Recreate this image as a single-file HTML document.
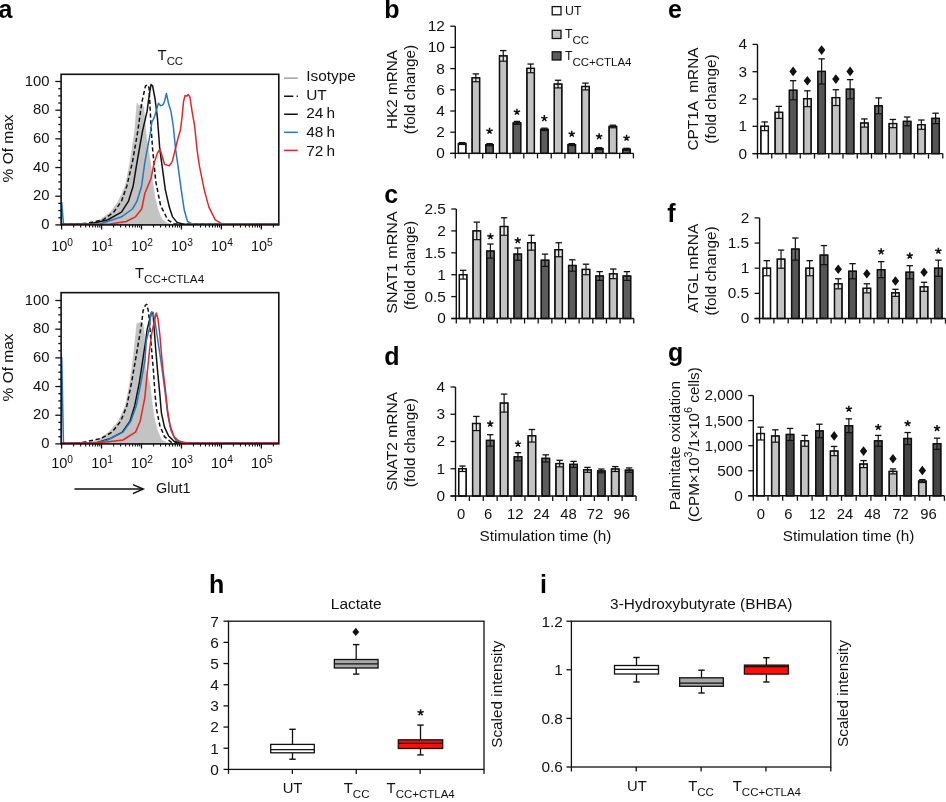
<!DOCTYPE html><html><head><meta charset="utf-8"><style>html,body{margin:0;padding:0;background:#fff;width:946px;height:802px;overflow:hidden}</style></head><body><svg width="946" height="802" viewBox="0 0 946 802" style="display:block;filter:blur(0.3px);font-family:'Liberation Sans', sans-serif">
<rect width="946" height="802" fill="#fff"/>
<text x="-1.50" y="18.40" font-size="25" text-anchor="start" font-weight="bold" fill="#000">a</text>
<text x="384.20" y="18.40" font-size="25" text-anchor="start" font-weight="bold" fill="#000">b</text>
<text x="384.20" y="203.40" font-size="25" text-anchor="start" font-weight="bold" fill="#000">c</text>
<text x="384.20" y="364.80" font-size="25" text-anchor="start" font-weight="bold" fill="#000">d</text>
<text x="667.90" y="18.40" font-size="25" text-anchor="start" font-weight="bold" fill="#000">e</text>
<text x="667.20" y="221.60" font-size="25" text-anchor="start" font-weight="bold" fill="#000">f</text>
<text x="667.90" y="361.20" font-size="25" text-anchor="start" font-weight="bold" fill="#000">g</text>
<text x="209.00" y="593.00" font-size="25" text-anchor="start" font-weight="bold" fill="#000">h</text>
<text x="540.00" y="593.00" font-size="25" text-anchor="start" font-weight="bold" fill="#000">i</text>
<rect x="458.40" y="143.54" width="7.50" height="9.86" fill="#ffffff" stroke="#111" stroke-width="1.3"/>
<rect x="459.05" y="144.19" width="6.20" height="0.30" fill="#ffffff"/>
<line x1="458.40" y1="144.50" x2="465.90" y2="144.50" stroke="#111" stroke-width="1.2"/>
<line x1="462.15" y1="142.59" x2="462.15" y2="144.50" stroke="#111" stroke-width="1.2"/>
<line x1="458.95" y1="142.59" x2="465.35" y2="142.59" stroke="#111" stroke-width="1.3"/>
<rect x="458.40" y="143.54" width="7.50" height="9.86" fill="none" stroke="#111" stroke-width="1.3"/>
<rect x="472.10" y="77.82" width="7.50" height="75.58" fill="#c3c3c3" stroke="#111" stroke-width="1.3"/>
<rect x="472.75" y="78.47" width="6.20" height="3.27" fill="#e2e2e2"/>
<line x1="472.10" y1="81.74" x2="479.60" y2="81.74" stroke="#111" stroke-width="1.2"/>
<line x1="475.85" y1="73.90" x2="475.85" y2="81.74" stroke="#111" stroke-width="1.2"/>
<line x1="472.65" y1="73.90" x2="479.05" y2="73.90" stroke="#111" stroke-width="1.3"/>
<rect x="472.10" y="77.82" width="7.50" height="75.58" fill="none" stroke="#111" stroke-width="1.3"/>
<rect x="485.80" y="144.71" width="7.50" height="8.69" fill="#5c5c5c" stroke="#111" stroke-width="1.3"/>
<rect x="486.45" y="145.36" width="6.20" height="0.41" fill="#6a6a6a"/>
<line x1="485.80" y1="145.77" x2="493.30" y2="145.77" stroke="#111" stroke-width="1.2"/>
<line x1="489.55" y1="143.65" x2="489.55" y2="145.77" stroke="#111" stroke-width="1.2"/>
<line x1="486.35" y1="143.65" x2="492.75" y2="143.65" stroke="#111" stroke-width="1.3"/>
<rect x="485.80" y="144.71" width="7.50" height="8.69" fill="none" stroke="#111" stroke-width="1.3"/>
<rect x="499.50" y="55.88" width="7.50" height="97.52" fill="#c3c3c3" stroke="#111" stroke-width="1.3"/>
<rect x="500.15" y="56.53" width="6.20" height="4.65" fill="#e2e2e2"/>
<line x1="499.50" y1="61.18" x2="507.00" y2="61.18" stroke="#111" stroke-width="1.2"/>
<line x1="503.25" y1="50.58" x2="503.25" y2="61.18" stroke="#111" stroke-width="1.2"/>
<line x1="500.05" y1="50.58" x2="506.45" y2="50.58" stroke="#111" stroke-width="1.3"/>
<rect x="499.50" y="55.88" width="7.50" height="97.52" fill="none" stroke="#111" stroke-width="1.3"/>
<rect x="513.20" y="122.87" width="7.50" height="30.53" fill="#5c5c5c" stroke="#111" stroke-width="1.3"/>
<rect x="513.85" y="123.52" width="6.20" height="0.83" fill="#6a6a6a"/>
<line x1="513.20" y1="124.36" x2="520.70" y2="124.36" stroke="#111" stroke-width="1.2"/>
<line x1="516.95" y1="121.39" x2="516.95" y2="124.36" stroke="#111" stroke-width="1.2"/>
<line x1="513.75" y1="121.39" x2="520.15" y2="121.39" stroke="#111" stroke-width="1.3"/>
<rect x="513.20" y="122.87" width="7.50" height="30.53" fill="none" stroke="#111" stroke-width="1.3"/>
<rect x="526.90" y="68.39" width="7.50" height="85.01" fill="#c3c3c3" stroke="#111" stroke-width="1.3"/>
<rect x="527.55" y="69.04" width="6.20" height="3.70" fill="#e2e2e2"/>
<line x1="526.90" y1="72.73" x2="534.40" y2="72.73" stroke="#111" stroke-width="1.2"/>
<line x1="530.65" y1="64.04" x2="530.65" y2="72.73" stroke="#111" stroke-width="1.2"/>
<line x1="527.45" y1="64.04" x2="533.85" y2="64.04" stroke="#111" stroke-width="1.3"/>
<rect x="526.90" y="68.39" width="7.50" height="85.01" fill="none" stroke="#111" stroke-width="1.3"/>
<rect x="540.60" y="129.34" width="7.50" height="24.06" fill="#5c5c5c" stroke="#111" stroke-width="1.3"/>
<rect x="541.25" y="129.99" width="6.20" height="0.52" fill="#6a6a6a"/>
<line x1="540.60" y1="130.50" x2="548.10" y2="130.50" stroke="#111" stroke-width="1.2"/>
<line x1="544.35" y1="128.17" x2="544.35" y2="130.50" stroke="#111" stroke-width="1.2"/>
<line x1="541.15" y1="128.17" x2="547.55" y2="128.17" stroke="#111" stroke-width="1.3"/>
<rect x="540.60" y="129.34" width="7.50" height="24.06" fill="none" stroke="#111" stroke-width="1.3"/>
<rect x="554.30" y="84.08" width="7.50" height="69.32" fill="#c3c3c3" stroke="#111" stroke-width="1.3"/>
<rect x="554.95" y="84.73" width="6.20" height="3.17" fill="#e2e2e2"/>
<line x1="554.30" y1="87.89" x2="561.80" y2="87.89" stroke="#111" stroke-width="1.2"/>
<line x1="558.05" y1="80.26" x2="558.05" y2="87.89" stroke="#111" stroke-width="1.2"/>
<line x1="554.85" y1="80.26" x2="561.25" y2="80.26" stroke="#111" stroke-width="1.3"/>
<rect x="554.30" y="84.08" width="7.50" height="69.32" fill="none" stroke="#111" stroke-width="1.3"/>
<rect x="568.00" y="144.60" width="7.50" height="8.80" fill="#5c5c5c" stroke="#111" stroke-width="1.3"/>
<rect x="568.65" y="145.25" width="6.20" height="0.30" fill="#6a6a6a"/>
<line x1="568.00" y1="145.56" x2="575.50" y2="145.56" stroke="#111" stroke-width="1.2"/>
<line x1="571.75" y1="143.65" x2="571.75" y2="145.56" stroke="#111" stroke-width="1.2"/>
<line x1="568.55" y1="143.65" x2="574.95" y2="143.65" stroke="#111" stroke-width="1.3"/>
<rect x="568.00" y="144.60" width="7.50" height="8.80" fill="none" stroke="#111" stroke-width="1.3"/>
<rect x="581.70" y="86.51" width="7.50" height="66.89" fill="#c3c3c3" stroke="#111" stroke-width="1.3"/>
<rect x="582.35" y="87.16" width="6.20" height="2.74" fill="#e2e2e2"/>
<line x1="581.70" y1="89.91" x2="589.20" y2="89.91" stroke="#111" stroke-width="1.2"/>
<line x1="585.45" y1="83.12" x2="585.45" y2="89.91" stroke="#111" stroke-width="1.2"/>
<line x1="582.25" y1="83.12" x2="588.65" y2="83.12" stroke="#111" stroke-width="1.3"/>
<rect x="581.70" y="86.51" width="7.50" height="66.89" fill="none" stroke="#111" stroke-width="1.3"/>
<rect x="595.40" y="148.63" width="7.50" height="4.77" fill="#5c5c5c" stroke="#111" stroke-width="1.3"/>
<rect x="596.05" y="149.28" width="6.20" height="0.30" fill="#6a6a6a"/>
<line x1="595.40" y1="149.58" x2="602.90" y2="149.58" stroke="#111" stroke-width="1.2"/>
<line x1="599.15" y1="147.68" x2="599.15" y2="149.58" stroke="#111" stroke-width="1.2"/>
<line x1="595.95" y1="147.68" x2="602.35" y2="147.68" stroke="#111" stroke-width="1.3"/>
<rect x="595.40" y="148.63" width="7.50" height="4.77" fill="none" stroke="#111" stroke-width="1.3"/>
<rect x="609.10" y="126.48" width="7.50" height="26.92" fill="#c3c3c3" stroke="#111" stroke-width="1.3"/>
<rect x="609.75" y="127.13" width="6.20" height="0.62" fill="#e2e2e2"/>
<line x1="609.10" y1="127.75" x2="616.60" y2="127.75" stroke="#111" stroke-width="1.2"/>
<line x1="612.85" y1="125.20" x2="612.85" y2="127.75" stroke="#111" stroke-width="1.2"/>
<line x1="609.65" y1="125.20" x2="616.05" y2="125.20" stroke="#111" stroke-width="1.3"/>
<rect x="609.10" y="126.48" width="7.50" height="26.92" fill="none" stroke="#111" stroke-width="1.3"/>
<rect x="622.80" y="149.27" width="7.50" height="4.13" fill="#5c5c5c" stroke="#111" stroke-width="1.3"/>
<rect x="623.45" y="149.92" width="6.20" height="0.30" fill="#6a6a6a"/>
<line x1="622.80" y1="150.22" x2="630.30" y2="150.22" stroke="#111" stroke-width="1.2"/>
<line x1="626.55" y1="148.31" x2="626.55" y2="150.22" stroke="#111" stroke-width="1.2"/>
<line x1="623.35" y1="148.31" x2="629.75" y2="148.31" stroke="#111" stroke-width="1.3"/>
<rect x="622.80" y="149.27" width="7.50" height="4.13" fill="none" stroke="#111" stroke-width="1.3"/>
<line x1="455.30" y1="26.20" x2="455.30" y2="154.00" stroke="#111" stroke-width="1.4"/>
<line x1="450.30" y1="153.40" x2="633.40" y2="153.40" stroke="#111" stroke-width="1.4"/>
<line x1="450.30" y1="153.40" x2="455.30" y2="153.40" stroke="#111" stroke-width="1.3"/>
<text x="444.90" y="158.30" font-size="15.4" text-anchor="end" font-weight="normal" fill="#111">0</text>
<line x1="450.30" y1="132.20" x2="455.30" y2="132.20" stroke="#111" stroke-width="1.3"/>
<text x="444.90" y="137.10" font-size="15.4" text-anchor="end" font-weight="normal" fill="#111">2</text>
<line x1="450.30" y1="111.00" x2="455.30" y2="111.00" stroke="#111" stroke-width="1.3"/>
<text x="444.90" y="115.90" font-size="15.4" text-anchor="end" font-weight="normal" fill="#111">4</text>
<line x1="450.30" y1="89.80" x2="455.30" y2="89.80" stroke="#111" stroke-width="1.3"/>
<text x="444.90" y="94.70" font-size="15.4" text-anchor="end" font-weight="normal" fill="#111">6</text>
<line x1="450.30" y1="68.60" x2="455.30" y2="68.60" stroke="#111" stroke-width="1.3"/>
<text x="444.90" y="73.50" font-size="15.4" text-anchor="end" font-weight="normal" fill="#111">8</text>
<line x1="450.30" y1="47.40" x2="455.30" y2="47.40" stroke="#111" stroke-width="1.3"/>
<text x="444.90" y="52.30" font-size="15.4" text-anchor="end" font-weight="normal" fill="#111">10</text>
<line x1="450.30" y1="26.20" x2="455.30" y2="26.20" stroke="#111" stroke-width="1.3"/>
<text x="444.90" y="31.10" font-size="15.4" text-anchor="end" font-weight="normal" fill="#111">12</text>
<line x1="455.30" y1="153.40" x2="455.30" y2="158.40" stroke="#111" stroke-width="1.3"/>
<line x1="469.00" y1="153.40" x2="469.00" y2="158.40" stroke="#111" stroke-width="1.3"/>
<line x1="482.70" y1="153.40" x2="482.70" y2="158.40" stroke="#111" stroke-width="1.3"/>
<line x1="496.40" y1="153.40" x2="496.40" y2="158.40" stroke="#111" stroke-width="1.3"/>
<line x1="510.10" y1="153.40" x2="510.10" y2="158.40" stroke="#111" stroke-width="1.3"/>
<line x1="523.80" y1="153.40" x2="523.80" y2="158.40" stroke="#111" stroke-width="1.3"/>
<line x1="537.50" y1="153.40" x2="537.50" y2="158.40" stroke="#111" stroke-width="1.3"/>
<line x1="551.20" y1="153.40" x2="551.20" y2="158.40" stroke="#111" stroke-width="1.3"/>
<line x1="564.90" y1="153.40" x2="564.90" y2="158.40" stroke="#111" stroke-width="1.3"/>
<line x1="578.60" y1="153.40" x2="578.60" y2="158.40" stroke="#111" stroke-width="1.3"/>
<line x1="592.30" y1="153.40" x2="592.30" y2="158.40" stroke="#111" stroke-width="1.3"/>
<line x1="606.00" y1="153.40" x2="606.00" y2="158.40" stroke="#111" stroke-width="1.3"/>
<line x1="619.70" y1="153.40" x2="619.70" y2="158.40" stroke="#111" stroke-width="1.3"/>
<line x1="633.40" y1="153.40" x2="633.40" y2="158.40" stroke="#111" stroke-width="1.3"/>
<path d="M489.55 131.00 L489.55 127.70 M489.55 131.00 L492.69 129.98 M489.55 131.00 L486.41 129.98 M489.55 131.00 L491.49 133.67 M489.55 131.00 L487.61 133.67 " stroke="#111" stroke-width="1.5" stroke-linecap="butt" fill="none"/>
<path d="M516.95 112.00 L516.95 108.70 M516.95 112.00 L520.09 110.98 M516.95 112.00 L513.81 110.98 M516.95 112.00 L518.89 114.67 M516.95 112.00 L515.01 114.67 " stroke="#111" stroke-width="1.5" stroke-linecap="butt" fill="none"/>
<path d="M544.35 118.40 L544.35 115.10 M544.35 118.40 L547.49 117.38 M544.35 118.40 L541.21 117.38 M544.35 118.40 L546.29 121.07 M544.35 118.40 L542.41 121.07 " stroke="#111" stroke-width="1.5" stroke-linecap="butt" fill="none"/>
<path d="M571.75 134.00 L571.75 130.70 M571.75 134.00 L574.89 132.98 M571.75 134.00 L568.61 132.98 M571.75 134.00 L573.69 136.67 M571.75 134.00 L569.81 136.67 " stroke="#111" stroke-width="1.5" stroke-linecap="butt" fill="none"/>
<path d="M599.15 136.50 L599.15 133.20 M599.15 136.50 L602.29 135.48 M599.15 136.50 L596.01 135.48 M599.15 136.50 L601.09 139.17 M599.15 136.50 L597.21 139.17 " stroke="#111" stroke-width="1.5" stroke-linecap="butt" fill="none"/>
<path d="M626.55 138.00 L626.55 134.70 M626.55 138.00 L629.69 136.98 M626.55 138.00 L623.41 136.98 M626.55 138.00 L628.49 140.67 M626.55 138.00 L624.61 140.67 " stroke="#111" stroke-width="1.5" stroke-linecap="butt" fill="none"/>
<rect x="459.38" y="274.70" width="7.50" height="43.80" fill="#ffffff" stroke="#111" stroke-width="1.3"/>
<rect x="460.02" y="275.35" width="6.20" height="3.73" fill="#ffffff"/>
<line x1="459.38" y1="279.08" x2="466.88" y2="279.08" stroke="#111" stroke-width="1.2"/>
<line x1="463.12" y1="270.32" x2="463.12" y2="279.08" stroke="#111" stroke-width="1.2"/>
<line x1="459.93" y1="270.32" x2="466.32" y2="270.32" stroke="#111" stroke-width="1.3"/>
<rect x="459.38" y="274.70" width="7.50" height="43.80" fill="none" stroke="#111" stroke-width="1.3"/>
<rect x="473.03" y="230.90" width="7.50" height="87.60" fill="#c3c3c3" stroke="#111" stroke-width="1.3"/>
<rect x="473.68" y="231.55" width="6.20" height="8.11" fill="#e2e2e2"/>
<line x1="473.03" y1="239.66" x2="480.53" y2="239.66" stroke="#111" stroke-width="1.2"/>
<line x1="476.78" y1="222.14" x2="476.78" y2="239.66" stroke="#111" stroke-width="1.2"/>
<line x1="473.58" y1="222.14" x2="479.98" y2="222.14" stroke="#111" stroke-width="1.3"/>
<rect x="473.03" y="230.90" width="7.50" height="87.60" fill="none" stroke="#111" stroke-width="1.3"/>
<rect x="486.68" y="251.05" width="7.50" height="67.45" fill="#5c5c5c" stroke="#111" stroke-width="1.3"/>
<rect x="487.32" y="251.70" width="6.20" height="6.36" fill="#6a6a6a"/>
<line x1="486.68" y1="258.06" x2="494.18" y2="258.06" stroke="#111" stroke-width="1.2"/>
<line x1="490.43" y1="244.04" x2="490.43" y2="258.06" stroke="#111" stroke-width="1.2"/>
<line x1="487.23" y1="244.04" x2="493.62" y2="244.04" stroke="#111" stroke-width="1.3"/>
<rect x="486.68" y="251.05" width="7.50" height="67.45" fill="none" stroke="#111" stroke-width="1.3"/>
<rect x="500.32" y="226.52" width="7.50" height="91.98" fill="#c3c3c3" stroke="#111" stroke-width="1.3"/>
<rect x="500.97" y="227.17" width="6.20" height="8.11" fill="#e2e2e2"/>
<line x1="500.32" y1="235.28" x2="507.82" y2="235.28" stroke="#111" stroke-width="1.2"/>
<line x1="504.07" y1="217.76" x2="504.07" y2="235.28" stroke="#111" stroke-width="1.2"/>
<line x1="500.88" y1="217.76" x2="507.27" y2="217.76" stroke="#111" stroke-width="1.3"/>
<rect x="500.32" y="226.52" width="7.50" height="91.98" fill="none" stroke="#111" stroke-width="1.3"/>
<rect x="513.98" y="254.11" width="7.50" height="64.39" fill="#5c5c5c" stroke="#111" stroke-width="1.3"/>
<rect x="514.62" y="254.76" width="6.20" height="5.48" fill="#6a6a6a"/>
<line x1="513.98" y1="260.25" x2="521.48" y2="260.25" stroke="#111" stroke-width="1.2"/>
<line x1="517.73" y1="247.98" x2="517.73" y2="260.25" stroke="#111" stroke-width="1.2"/>
<line x1="514.52" y1="247.98" x2="520.93" y2="247.98" stroke="#111" stroke-width="1.3"/>
<rect x="513.98" y="254.11" width="7.50" height="64.39" fill="none" stroke="#111" stroke-width="1.3"/>
<rect x="527.62" y="242.73" width="7.50" height="75.77" fill="#c3c3c3" stroke="#111" stroke-width="1.3"/>
<rect x="528.27" y="243.38" width="6.20" height="6.80" fill="#e2e2e2"/>
<line x1="527.62" y1="250.17" x2="535.12" y2="250.17" stroke="#111" stroke-width="1.2"/>
<line x1="531.38" y1="235.28" x2="531.38" y2="250.17" stroke="#111" stroke-width="1.2"/>
<line x1="528.17" y1="235.28" x2="534.58" y2="235.28" stroke="#111" stroke-width="1.3"/>
<rect x="527.62" y="242.73" width="7.50" height="75.77" fill="none" stroke="#111" stroke-width="1.3"/>
<rect x="541.27" y="260.25" width="7.50" height="58.25" fill="#5c5c5c" stroke="#111" stroke-width="1.3"/>
<rect x="541.92" y="260.90" width="6.20" height="5.48" fill="#6a6a6a"/>
<line x1="541.27" y1="266.38" x2="548.77" y2="266.38" stroke="#111" stroke-width="1.2"/>
<line x1="545.02" y1="254.11" x2="545.02" y2="266.38" stroke="#111" stroke-width="1.2"/>
<line x1="541.82" y1="254.11" x2="548.23" y2="254.11" stroke="#111" stroke-width="1.3"/>
<rect x="541.27" y="260.25" width="7.50" height="58.25" fill="none" stroke="#111" stroke-width="1.3"/>
<rect x="554.92" y="249.73" width="7.50" height="68.77" fill="#c3c3c3" stroke="#111" stroke-width="1.3"/>
<rect x="555.57" y="250.38" width="6.20" height="6.36" fill="#e2e2e2"/>
<line x1="554.92" y1="256.74" x2="562.42" y2="256.74" stroke="#111" stroke-width="1.2"/>
<line x1="558.67" y1="242.73" x2="558.67" y2="256.74" stroke="#111" stroke-width="1.2"/>
<line x1="555.47" y1="242.73" x2="561.88" y2="242.73" stroke="#111" stroke-width="1.3"/>
<rect x="554.92" y="249.73" width="7.50" height="68.77" fill="none" stroke="#111" stroke-width="1.3"/>
<rect x="568.58" y="265.50" width="7.50" height="53.00" fill="#5c5c5c" stroke="#111" stroke-width="1.3"/>
<rect x="569.23" y="266.15" width="6.20" height="5.04" fill="#6a6a6a"/>
<line x1="568.58" y1="271.20" x2="576.08" y2="271.20" stroke="#111" stroke-width="1.2"/>
<line x1="572.33" y1="259.81" x2="572.33" y2="271.20" stroke="#111" stroke-width="1.2"/>
<line x1="569.12" y1="259.81" x2="575.53" y2="259.81" stroke="#111" stroke-width="1.3"/>
<rect x="568.58" y="265.50" width="7.50" height="53.00" fill="none" stroke="#111" stroke-width="1.3"/>
<rect x="582.23" y="269.44" width="7.50" height="49.06" fill="#c3c3c3" stroke="#111" stroke-width="1.3"/>
<rect x="582.88" y="270.09" width="6.20" height="4.61" fill="#e2e2e2"/>
<line x1="582.23" y1="274.70" x2="589.73" y2="274.70" stroke="#111" stroke-width="1.2"/>
<line x1="585.98" y1="264.19" x2="585.98" y2="274.70" stroke="#111" stroke-width="1.2"/>
<line x1="582.77" y1="264.19" x2="589.18" y2="264.19" stroke="#111" stroke-width="1.3"/>
<rect x="582.23" y="269.44" width="7.50" height="49.06" fill="none" stroke="#111" stroke-width="1.3"/>
<rect x="595.88" y="276.01" width="7.50" height="42.49" fill="#5c5c5c" stroke="#111" stroke-width="1.3"/>
<rect x="596.52" y="276.66" width="6.20" height="3.73" fill="#6a6a6a"/>
<line x1="595.88" y1="280.39" x2="603.38" y2="280.39" stroke="#111" stroke-width="1.2"/>
<line x1="599.62" y1="271.63" x2="599.62" y2="280.39" stroke="#111" stroke-width="1.2"/>
<line x1="596.42" y1="271.63" x2="602.83" y2="271.63" stroke="#111" stroke-width="1.3"/>
<rect x="595.88" y="276.01" width="7.50" height="42.49" fill="none" stroke="#111" stroke-width="1.3"/>
<rect x="609.52" y="273.82" width="7.50" height="44.68" fill="#c3c3c3" stroke="#111" stroke-width="1.3"/>
<rect x="610.17" y="274.47" width="6.20" height="4.17" fill="#e2e2e2"/>
<line x1="609.52" y1="278.64" x2="617.02" y2="278.64" stroke="#111" stroke-width="1.2"/>
<line x1="613.27" y1="269.01" x2="613.27" y2="278.64" stroke="#111" stroke-width="1.2"/>
<line x1="610.07" y1="269.01" x2="616.48" y2="269.01" stroke="#111" stroke-width="1.3"/>
<rect x="609.52" y="273.82" width="7.50" height="44.68" fill="none" stroke="#111" stroke-width="1.3"/>
<rect x="623.17" y="276.01" width="7.50" height="42.49" fill="#5c5c5c" stroke="#111" stroke-width="1.3"/>
<rect x="623.82" y="276.66" width="6.20" height="3.73" fill="#6a6a6a"/>
<line x1="623.17" y1="280.39" x2="630.67" y2="280.39" stroke="#111" stroke-width="1.2"/>
<line x1="626.92" y1="271.63" x2="626.92" y2="280.39" stroke="#111" stroke-width="1.2"/>
<line x1="623.72" y1="271.63" x2="630.12" y2="271.63" stroke="#111" stroke-width="1.3"/>
<rect x="623.17" y="276.01" width="7.50" height="42.49" fill="none" stroke="#111" stroke-width="1.3"/>
<line x1="456.30" y1="209.00" x2="456.30" y2="319.10" stroke="#111" stroke-width="1.4"/>
<line x1="451.30" y1="318.50" x2="633.75" y2="318.50" stroke="#111" stroke-width="1.4"/>
<line x1="451.30" y1="318.50" x2="456.30" y2="318.50" stroke="#111" stroke-width="1.3"/>
<text x="445.90" y="323.40" font-size="15.4" text-anchor="end" font-weight="normal" fill="#111">0</text>
<line x1="451.30" y1="296.60" x2="456.30" y2="296.60" stroke="#111" stroke-width="1.3"/>
<text x="445.90" y="301.50" font-size="15.4" text-anchor="end" font-weight="normal" fill="#111">0.5</text>
<line x1="451.30" y1="274.70" x2="456.30" y2="274.70" stroke="#111" stroke-width="1.3"/>
<text x="445.90" y="279.60" font-size="15.4" text-anchor="end" font-weight="normal" fill="#111">1</text>
<line x1="451.30" y1="252.80" x2="456.30" y2="252.80" stroke="#111" stroke-width="1.3"/>
<text x="445.90" y="257.70" font-size="15.4" text-anchor="end" font-weight="normal" fill="#111">1.5</text>
<line x1="451.30" y1="230.90" x2="456.30" y2="230.90" stroke="#111" stroke-width="1.3"/>
<text x="445.90" y="235.80" font-size="15.4" text-anchor="end" font-weight="normal" fill="#111">2</text>
<line x1="451.30" y1="209.00" x2="456.30" y2="209.00" stroke="#111" stroke-width="1.3"/>
<text x="445.90" y="213.90" font-size="15.4" text-anchor="end" font-weight="normal" fill="#111">2.5</text>
<line x1="456.30" y1="318.50" x2="456.30" y2="323.50" stroke="#111" stroke-width="1.3"/>
<line x1="469.95" y1="318.50" x2="469.95" y2="323.50" stroke="#111" stroke-width="1.3"/>
<line x1="483.60" y1="318.50" x2="483.60" y2="323.50" stroke="#111" stroke-width="1.3"/>
<line x1="497.25" y1="318.50" x2="497.25" y2="323.50" stroke="#111" stroke-width="1.3"/>
<line x1="510.90" y1="318.50" x2="510.90" y2="323.50" stroke="#111" stroke-width="1.3"/>
<line x1="524.55" y1="318.50" x2="524.55" y2="323.50" stroke="#111" stroke-width="1.3"/>
<line x1="538.20" y1="318.50" x2="538.20" y2="323.50" stroke="#111" stroke-width="1.3"/>
<line x1="551.85" y1="318.50" x2="551.85" y2="323.50" stroke="#111" stroke-width="1.3"/>
<line x1="565.50" y1="318.50" x2="565.50" y2="323.50" stroke="#111" stroke-width="1.3"/>
<line x1="579.15" y1="318.50" x2="579.15" y2="323.50" stroke="#111" stroke-width="1.3"/>
<line x1="592.80" y1="318.50" x2="592.80" y2="323.50" stroke="#111" stroke-width="1.3"/>
<line x1="606.45" y1="318.50" x2="606.45" y2="323.50" stroke="#111" stroke-width="1.3"/>
<line x1="620.10" y1="318.50" x2="620.10" y2="323.50" stroke="#111" stroke-width="1.3"/>
<line x1="633.75" y1="318.50" x2="633.75" y2="323.50" stroke="#111" stroke-width="1.3"/>
<path d="M490.43 236.50 L490.43 233.20 M490.43 236.50 L493.56 235.48 M490.43 236.50 L487.29 235.48 M490.43 236.50 L492.36 239.17 M490.43 236.50 L488.49 239.17 " stroke="#111" stroke-width="1.5" stroke-linecap="butt" fill="none"/>
<path d="M517.73 240.50 L517.73 237.20 M517.73 240.50 L520.86 239.48 M517.73 240.50 L514.59 239.48 M517.73 240.50 L519.66 243.17 M517.73 240.50 L515.79 243.17 " stroke="#111" stroke-width="1.5" stroke-linecap="butt" fill="none"/>
<rect x="458.69" y="468.75" width="7.50" height="27.25" fill="#ffffff" stroke="#111" stroke-width="1.3"/>
<rect x="459.34" y="469.40" width="6.20" height="2.08" fill="#ffffff"/>
<line x1="458.69" y1="471.48" x2="466.19" y2="471.48" stroke="#111" stroke-width="1.2"/>
<line x1="462.44" y1="466.02" x2="462.44" y2="471.48" stroke="#111" stroke-width="1.2"/>
<line x1="459.25" y1="466.02" x2="465.64" y2="466.02" stroke="#111" stroke-width="1.3"/>
<rect x="458.69" y="468.75" width="7.50" height="27.25" fill="none" stroke="#111" stroke-width="1.3"/>
<rect x="472.58" y="423.51" width="7.50" height="72.49" fill="#c3c3c3" stroke="#111" stroke-width="1.3"/>
<rect x="473.23" y="424.16" width="6.20" height="6.44" fill="#e2e2e2"/>
<line x1="472.58" y1="430.60" x2="480.08" y2="430.60" stroke="#111" stroke-width="1.2"/>
<line x1="476.33" y1="416.43" x2="476.33" y2="430.60" stroke="#111" stroke-width="1.2"/>
<line x1="473.13" y1="416.43" x2="479.53" y2="416.43" stroke="#111" stroke-width="1.3"/>
<rect x="472.58" y="423.51" width="7.50" height="72.49" fill="none" stroke="#111" stroke-width="1.3"/>
<rect x="486.48" y="440.41" width="7.50" height="55.59" fill="#5c5c5c" stroke="#111" stroke-width="1.3"/>
<rect x="487.12" y="441.06" width="6.20" height="5.07" fill="#6a6a6a"/>
<line x1="486.48" y1="446.13" x2="493.98" y2="446.13" stroke="#111" stroke-width="1.2"/>
<line x1="490.23" y1="434.69" x2="490.23" y2="446.13" stroke="#111" stroke-width="1.2"/>
<line x1="487.03" y1="434.69" x2="493.43" y2="434.69" stroke="#111" stroke-width="1.3"/>
<rect x="486.48" y="440.41" width="7.50" height="55.59" fill="none" stroke="#111" stroke-width="1.3"/>
<rect x="500.37" y="403.08" width="7.50" height="92.92" fill="#c3c3c3" stroke="#111" stroke-width="1.3"/>
<rect x="501.01" y="403.73" width="6.20" height="8.34" fill="#e2e2e2"/>
<line x1="500.37" y1="412.07" x2="507.87" y2="412.07" stroke="#111" stroke-width="1.2"/>
<line x1="504.12" y1="394.08" x2="504.12" y2="412.07" stroke="#111" stroke-width="1.2"/>
<line x1="500.92" y1="394.08" x2="507.31" y2="394.08" stroke="#111" stroke-width="1.3"/>
<rect x="500.37" y="403.08" width="7.50" height="92.92" fill="none" stroke="#111" stroke-width="1.3"/>
<rect x="514.25" y="456.76" width="7.50" height="39.24" fill="#5c5c5c" stroke="#111" stroke-width="1.3"/>
<rect x="514.90" y="457.41" width="6.20" height="3.44" fill="#6a6a6a"/>
<line x1="514.25" y1="460.85" x2="521.75" y2="460.85" stroke="#111" stroke-width="1.2"/>
<line x1="518.00" y1="452.67" x2="518.00" y2="460.85" stroke="#111" stroke-width="1.2"/>
<line x1="514.80" y1="452.67" x2="521.21" y2="452.67" stroke="#111" stroke-width="1.3"/>
<rect x="514.25" y="456.76" width="7.50" height="39.24" fill="none" stroke="#111" stroke-width="1.3"/>
<rect x="528.14" y="435.78" width="7.50" height="60.22" fill="#c3c3c3" stroke="#111" stroke-width="1.3"/>
<rect x="528.79" y="436.43" width="6.20" height="5.62" fill="#e2e2e2"/>
<line x1="528.14" y1="442.05" x2="535.64" y2="442.05" stroke="#111" stroke-width="1.2"/>
<line x1="531.89" y1="429.51" x2="531.89" y2="442.05" stroke="#111" stroke-width="1.2"/>
<line x1="528.69" y1="429.51" x2="535.10" y2="429.51" stroke="#111" stroke-width="1.3"/>
<rect x="528.14" y="435.78" width="7.50" height="60.22" fill="none" stroke="#111" stroke-width="1.3"/>
<rect x="542.03" y="458.39" width="7.50" height="37.61" fill="#5c5c5c" stroke="#111" stroke-width="1.3"/>
<rect x="542.68" y="459.04" width="6.20" height="2.89" fill="#6a6a6a"/>
<line x1="542.03" y1="461.94" x2="549.53" y2="461.94" stroke="#111" stroke-width="1.2"/>
<line x1="545.78" y1="454.85" x2="545.78" y2="461.94" stroke="#111" stroke-width="1.2"/>
<line x1="542.58" y1="454.85" x2="548.99" y2="454.85" stroke="#111" stroke-width="1.3"/>
<rect x="542.03" y="458.39" width="7.50" height="37.61" fill="none" stroke="#111" stroke-width="1.3"/>
<rect x="555.92" y="463.57" width="7.50" height="32.43" fill="#c3c3c3" stroke="#111" stroke-width="1.3"/>
<rect x="556.57" y="464.22" width="6.20" height="2.62" fill="#e2e2e2"/>
<line x1="555.92" y1="466.84" x2="563.42" y2="466.84" stroke="#111" stroke-width="1.2"/>
<line x1="559.67" y1="460.30" x2="559.67" y2="466.84" stroke="#111" stroke-width="1.2"/>
<line x1="556.47" y1="460.30" x2="562.88" y2="460.30" stroke="#111" stroke-width="1.3"/>
<rect x="555.92" y="463.57" width="7.50" height="32.43" fill="none" stroke="#111" stroke-width="1.3"/>
<rect x="569.82" y="464.39" width="7.50" height="31.61" fill="#5c5c5c" stroke="#111" stroke-width="1.3"/>
<rect x="570.47" y="465.04" width="6.20" height="2.35" fill="#6a6a6a"/>
<line x1="569.82" y1="467.39" x2="577.32" y2="467.39" stroke="#111" stroke-width="1.2"/>
<line x1="573.57" y1="461.39" x2="573.57" y2="467.39" stroke="#111" stroke-width="1.2"/>
<line x1="570.37" y1="461.39" x2="576.77" y2="461.39" stroke="#111" stroke-width="1.3"/>
<rect x="569.82" y="464.39" width="7.50" height="31.61" fill="none" stroke="#111" stroke-width="1.3"/>
<rect x="583.71" y="469.84" width="7.50" height="26.16" fill="#c3c3c3" stroke="#111" stroke-width="1.3"/>
<rect x="584.36" y="470.49" width="6.20" height="1.80" fill="#e2e2e2"/>
<line x1="583.71" y1="472.29" x2="591.21" y2="472.29" stroke="#111" stroke-width="1.2"/>
<line x1="587.46" y1="467.39" x2="587.46" y2="472.29" stroke="#111" stroke-width="1.2"/>
<line x1="584.25" y1="467.39" x2="590.66" y2="467.39" stroke="#111" stroke-width="1.3"/>
<rect x="583.71" y="469.84" width="7.50" height="26.16" fill="none" stroke="#111" stroke-width="1.3"/>
<rect x="597.60" y="470.93" width="7.50" height="25.07" fill="#5c5c5c" stroke="#111" stroke-width="1.3"/>
<rect x="598.25" y="471.58" width="6.20" height="1.26" fill="#6a6a6a"/>
<line x1="597.60" y1="472.84" x2="605.10" y2="472.84" stroke="#111" stroke-width="1.2"/>
<line x1="601.35" y1="469.02" x2="601.35" y2="472.84" stroke="#111" stroke-width="1.2"/>
<line x1="598.14" y1="469.02" x2="604.55" y2="469.02" stroke="#111" stroke-width="1.3"/>
<rect x="597.60" y="470.93" width="7.50" height="25.07" fill="none" stroke="#111" stroke-width="1.3"/>
<rect x="611.49" y="469.02" width="7.50" height="26.98" fill="#c3c3c3" stroke="#111" stroke-width="1.3"/>
<rect x="612.13" y="469.67" width="6.20" height="1.80" fill="#e2e2e2"/>
<line x1="611.49" y1="471.48" x2="618.99" y2="471.48" stroke="#111" stroke-width="1.2"/>
<line x1="615.24" y1="466.57" x2="615.24" y2="471.48" stroke="#111" stroke-width="1.2"/>
<line x1="612.03" y1="466.57" x2="618.44" y2="466.57" stroke="#111" stroke-width="1.3"/>
<rect x="611.49" y="469.02" width="7.50" height="26.98" fill="none" stroke="#111" stroke-width="1.3"/>
<rect x="625.38" y="470.11" width="7.50" height="25.89" fill="#5c5c5c" stroke="#111" stroke-width="1.3"/>
<rect x="626.02" y="470.76" width="6.20" height="1.53" fill="#6a6a6a"/>
<line x1="625.38" y1="472.29" x2="632.88" y2="472.29" stroke="#111" stroke-width="1.2"/>
<line x1="629.12" y1="467.93" x2="629.12" y2="472.29" stroke="#111" stroke-width="1.2"/>
<line x1="625.92" y1="467.93" x2="632.33" y2="467.93" stroke="#111" stroke-width="1.3"/>
<rect x="625.38" y="470.11" width="7.50" height="25.89" fill="none" stroke="#111" stroke-width="1.3"/>
<line x1="455.50" y1="387.00" x2="455.50" y2="496.60" stroke="#111" stroke-width="1.4"/>
<line x1="450.50" y1="496.00" x2="636.07" y2="496.00" stroke="#111" stroke-width="1.4"/>
<line x1="450.50" y1="496.00" x2="455.50" y2="496.00" stroke="#111" stroke-width="1.3"/>
<text x="445.10" y="500.90" font-size="15.4" text-anchor="end" font-weight="normal" fill="#111">0</text>
<line x1="450.50" y1="468.75" x2="455.50" y2="468.75" stroke="#111" stroke-width="1.3"/>
<text x="445.10" y="473.65" font-size="15.4" text-anchor="end" font-weight="normal" fill="#111">1</text>
<line x1="450.50" y1="441.50" x2="455.50" y2="441.50" stroke="#111" stroke-width="1.3"/>
<text x="445.10" y="446.40" font-size="15.4" text-anchor="end" font-weight="normal" fill="#111">2</text>
<line x1="450.50" y1="414.25" x2="455.50" y2="414.25" stroke="#111" stroke-width="1.3"/>
<text x="445.10" y="419.15" font-size="15.4" text-anchor="end" font-weight="normal" fill="#111">3</text>
<line x1="450.50" y1="387.00" x2="455.50" y2="387.00" stroke="#111" stroke-width="1.3"/>
<text x="445.10" y="391.90" font-size="15.4" text-anchor="end" font-weight="normal" fill="#111">4</text>
<line x1="455.50" y1="496.00" x2="455.50" y2="501.00" stroke="#111" stroke-width="1.3"/>
<line x1="469.39" y1="496.00" x2="469.39" y2="501.00" stroke="#111" stroke-width="1.3"/>
<line x1="483.28" y1="496.00" x2="483.28" y2="501.00" stroke="#111" stroke-width="1.3"/>
<line x1="497.17" y1="496.00" x2="497.17" y2="501.00" stroke="#111" stroke-width="1.3"/>
<line x1="511.06" y1="496.00" x2="511.06" y2="501.00" stroke="#111" stroke-width="1.3"/>
<line x1="524.95" y1="496.00" x2="524.95" y2="501.00" stroke="#111" stroke-width="1.3"/>
<line x1="538.84" y1="496.00" x2="538.84" y2="501.00" stroke="#111" stroke-width="1.3"/>
<line x1="552.73" y1="496.00" x2="552.73" y2="501.00" stroke="#111" stroke-width="1.3"/>
<line x1="566.62" y1="496.00" x2="566.62" y2="501.00" stroke="#111" stroke-width="1.3"/>
<line x1="580.51" y1="496.00" x2="580.51" y2="501.00" stroke="#111" stroke-width="1.3"/>
<line x1="594.40" y1="496.00" x2="594.40" y2="501.00" stroke="#111" stroke-width="1.3"/>
<line x1="608.29" y1="496.00" x2="608.29" y2="501.00" stroke="#111" stroke-width="1.3"/>
<line x1="622.18" y1="496.00" x2="622.18" y2="501.00" stroke="#111" stroke-width="1.3"/>
<line x1="636.07" y1="496.00" x2="636.07" y2="501.00" stroke="#111" stroke-width="1.3"/>
<path d="M490.23 423.80 L490.23 420.50 M490.23 423.80 L493.36 422.78 M490.23 423.80 L487.09 422.78 M490.23 423.80 L492.16 426.47 M490.23 423.80 L488.29 426.47 " stroke="#111" stroke-width="1.5" stroke-linecap="butt" fill="none"/>
<path d="M518.00 443.90 L518.00 440.60 M518.00 443.90 L521.14 442.88 M518.00 443.90 L514.87 442.88 M518.00 443.90 L519.94 446.57 M518.00 443.90 L516.07 446.57 " stroke="#111" stroke-width="1.5" stroke-linecap="butt" fill="none"/>
<rect x="760.88" y="126.30" width="7.50" height="27.30" fill="#ffffff" stroke="#111" stroke-width="1.3"/>
<rect x="761.52" y="126.95" width="6.20" height="3.72" fill="#ffffff"/>
<line x1="760.88" y1="130.67" x2="768.38" y2="130.67" stroke="#111" stroke-width="1.2"/>
<line x1="764.62" y1="121.93" x2="764.62" y2="130.67" stroke="#111" stroke-width="1.2"/>
<line x1="761.42" y1="121.93" x2="767.83" y2="121.93" stroke="#111" stroke-width="1.3"/>
<rect x="760.88" y="126.30" width="7.50" height="27.30" fill="none" stroke="#111" stroke-width="1.3"/>
<rect x="775.12" y="112.38" width="7.50" height="41.22" fill="#c3c3c3" stroke="#111" stroke-width="1.3"/>
<rect x="775.77" y="113.03" width="6.20" height="5.36" fill="#e2e2e2"/>
<line x1="775.12" y1="118.38" x2="782.62" y2="118.38" stroke="#111" stroke-width="1.2"/>
<line x1="778.88" y1="106.37" x2="778.88" y2="118.38" stroke="#111" stroke-width="1.2"/>
<line x1="775.67" y1="106.37" x2="782.08" y2="106.37" stroke="#111" stroke-width="1.3"/>
<rect x="775.12" y="112.38" width="7.50" height="41.22" fill="none" stroke="#111" stroke-width="1.3"/>
<rect x="789.38" y="90.26" width="7.50" height="63.34" fill="#555555" stroke="#111" stroke-width="1.3"/>
<rect x="790.02" y="90.91" width="6.20" height="8.91" fill="#6a6a6a"/>
<line x1="789.38" y1="99.82" x2="796.88" y2="99.82" stroke="#111" stroke-width="1.2"/>
<line x1="793.12" y1="80.71" x2="793.12" y2="99.82" stroke="#111" stroke-width="1.2"/>
<line x1="789.92" y1="80.71" x2="796.33" y2="80.71" stroke="#111" stroke-width="1.3"/>
<rect x="789.38" y="90.26" width="7.50" height="63.34" fill="none" stroke="#111" stroke-width="1.3"/>
<rect x="803.62" y="98.73" width="7.50" height="54.87" fill="#c3c3c3" stroke="#111" stroke-width="1.3"/>
<rect x="804.27" y="99.38" width="6.20" height="7.27" fill="#e2e2e2"/>
<line x1="803.62" y1="106.64" x2="811.12" y2="106.64" stroke="#111" stroke-width="1.2"/>
<line x1="807.38" y1="90.81" x2="807.38" y2="106.64" stroke="#111" stroke-width="1.2"/>
<line x1="804.17" y1="90.81" x2="810.58" y2="90.81" stroke="#111" stroke-width="1.3"/>
<rect x="803.62" y="98.73" width="7.50" height="54.87" fill="none" stroke="#111" stroke-width="1.3"/>
<rect x="817.88" y="71.43" width="7.50" height="82.17" fill="#555555" stroke="#111" stroke-width="1.3"/>
<rect x="818.52" y="72.08" width="6.20" height="11.91" fill="#6a6a6a"/>
<line x1="817.88" y1="83.98" x2="825.38" y2="83.98" stroke="#111" stroke-width="1.2"/>
<line x1="821.62" y1="58.87" x2="821.62" y2="83.98" stroke="#111" stroke-width="1.2"/>
<line x1="818.42" y1="58.87" x2="824.83" y2="58.87" stroke="#111" stroke-width="1.3"/>
<rect x="817.88" y="71.43" width="7.50" height="82.17" fill="none" stroke="#111" stroke-width="1.3"/>
<rect x="832.12" y="97.63" width="7.50" height="55.97" fill="#c3c3c3" stroke="#111" stroke-width="1.3"/>
<rect x="832.77" y="98.28" width="6.20" height="7.27" fill="#e2e2e2"/>
<line x1="832.12" y1="105.55" x2="839.62" y2="105.55" stroke="#111" stroke-width="1.2"/>
<line x1="835.88" y1="89.72" x2="835.88" y2="105.55" stroke="#111" stroke-width="1.2"/>
<line x1="832.67" y1="89.72" x2="839.08" y2="89.72" stroke="#111" stroke-width="1.3"/>
<rect x="832.12" y="97.63" width="7.50" height="55.97" fill="none" stroke="#111" stroke-width="1.3"/>
<rect x="846.38" y="89.17" width="7.50" height="64.43" fill="#555555" stroke="#111" stroke-width="1.3"/>
<rect x="847.02" y="89.82" width="6.20" height="8.91" fill="#6a6a6a"/>
<line x1="846.38" y1="98.73" x2="853.88" y2="98.73" stroke="#111" stroke-width="1.2"/>
<line x1="850.12" y1="79.62" x2="850.12" y2="98.73" stroke="#111" stroke-width="1.2"/>
<line x1="846.92" y1="79.62" x2="853.33" y2="79.62" stroke="#111" stroke-width="1.3"/>
<rect x="846.38" y="89.17" width="7.50" height="64.43" fill="none" stroke="#111" stroke-width="1.3"/>
<rect x="860.62" y="123.02" width="7.50" height="30.58" fill="#c3c3c3" stroke="#111" stroke-width="1.3"/>
<rect x="861.27" y="123.67" width="6.20" height="3.45" fill="#e2e2e2"/>
<line x1="860.62" y1="127.12" x2="868.12" y2="127.12" stroke="#111" stroke-width="1.2"/>
<line x1="864.38" y1="118.93" x2="864.38" y2="127.12" stroke="#111" stroke-width="1.2"/>
<line x1="861.17" y1="118.93" x2="867.58" y2="118.93" stroke="#111" stroke-width="1.3"/>
<rect x="860.62" y="123.02" width="7.50" height="30.58" fill="none" stroke="#111" stroke-width="1.3"/>
<rect x="874.88" y="105.82" width="7.50" height="47.78" fill="#555555" stroke="#111" stroke-width="1.3"/>
<rect x="875.52" y="106.47" width="6.20" height="7.27" fill="#6a6a6a"/>
<line x1="874.88" y1="113.74" x2="882.38" y2="113.74" stroke="#111" stroke-width="1.2"/>
<line x1="878.62" y1="97.91" x2="878.62" y2="113.74" stroke="#111" stroke-width="1.2"/>
<line x1="875.42" y1="97.91" x2="881.83" y2="97.91" stroke="#111" stroke-width="1.3"/>
<rect x="874.88" y="105.82" width="7.50" height="47.78" fill="none" stroke="#111" stroke-width="1.3"/>
<rect x="889.12" y="123.57" width="7.50" height="30.03" fill="#c3c3c3" stroke="#111" stroke-width="1.3"/>
<rect x="889.77" y="124.22" width="6.20" height="3.44" fill="#e2e2e2"/>
<line x1="889.12" y1="127.66" x2="896.62" y2="127.66" stroke="#111" stroke-width="1.2"/>
<line x1="892.88" y1="119.47" x2="892.88" y2="127.66" stroke="#111" stroke-width="1.2"/>
<line x1="889.67" y1="119.47" x2="896.08" y2="119.47" stroke="#111" stroke-width="1.3"/>
<rect x="889.12" y="123.57" width="7.50" height="30.03" fill="none" stroke="#111" stroke-width="1.3"/>
<rect x="903.38" y="121.39" width="7.50" height="32.21" fill="#555555" stroke="#111" stroke-width="1.3"/>
<rect x="904.02" y="122.04" width="6.20" height="3.72" fill="#6a6a6a"/>
<line x1="903.38" y1="125.75" x2="910.88" y2="125.75" stroke="#111" stroke-width="1.2"/>
<line x1="907.12" y1="117.02" x2="907.12" y2="125.75" stroke="#111" stroke-width="1.2"/>
<line x1="903.92" y1="117.02" x2="910.33" y2="117.02" stroke="#111" stroke-width="1.3"/>
<rect x="903.38" y="121.39" width="7.50" height="32.21" fill="none" stroke="#111" stroke-width="1.3"/>
<rect x="917.62" y="124.66" width="7.50" height="28.94" fill="#c3c3c3" stroke="#111" stroke-width="1.3"/>
<rect x="918.27" y="125.31" width="6.20" height="3.99" fill="#e2e2e2"/>
<line x1="917.62" y1="129.30" x2="925.12" y2="129.30" stroke="#111" stroke-width="1.2"/>
<line x1="921.38" y1="120.02" x2="921.38" y2="129.30" stroke="#111" stroke-width="1.2"/>
<line x1="918.17" y1="120.02" x2="924.58" y2="120.02" stroke="#111" stroke-width="1.3"/>
<rect x="917.62" y="124.66" width="7.50" height="28.94" fill="none" stroke="#111" stroke-width="1.3"/>
<rect x="931.88" y="118.38" width="7.50" height="35.22" fill="#555555" stroke="#111" stroke-width="1.3"/>
<rect x="932.52" y="119.03" width="6.20" height="4.54" fill="#6a6a6a"/>
<line x1="931.88" y1="123.57" x2="939.38" y2="123.57" stroke="#111" stroke-width="1.2"/>
<line x1="935.62" y1="113.20" x2="935.62" y2="123.57" stroke="#111" stroke-width="1.2"/>
<line x1="932.42" y1="113.20" x2="938.83" y2="113.20" stroke="#111" stroke-width="1.3"/>
<rect x="931.88" y="118.38" width="7.50" height="35.22" fill="none" stroke="#111" stroke-width="1.3"/>
<line x1="757.50" y1="44.40" x2="757.50" y2="154.20" stroke="#111" stroke-width="1.4"/>
<line x1="752.50" y1="153.60" x2="942.75" y2="153.60" stroke="#111" stroke-width="1.4"/>
<line x1="752.50" y1="153.60" x2="757.50" y2="153.60" stroke="#111" stroke-width="1.3"/>
<text x="747.10" y="158.50" font-size="15.4" text-anchor="end" font-weight="normal" fill="#111">0</text>
<line x1="752.50" y1="126.30" x2="757.50" y2="126.30" stroke="#111" stroke-width="1.3"/>
<text x="747.10" y="131.20" font-size="15.4" text-anchor="end" font-weight="normal" fill="#111">1</text>
<line x1="752.50" y1="99.00" x2="757.50" y2="99.00" stroke="#111" stroke-width="1.3"/>
<text x="747.10" y="103.90" font-size="15.4" text-anchor="end" font-weight="normal" fill="#111">2</text>
<line x1="752.50" y1="71.70" x2="757.50" y2="71.70" stroke="#111" stroke-width="1.3"/>
<text x="747.10" y="76.60" font-size="15.4" text-anchor="end" font-weight="normal" fill="#111">3</text>
<line x1="752.50" y1="44.40" x2="757.50" y2="44.40" stroke="#111" stroke-width="1.3"/>
<text x="747.10" y="49.30" font-size="15.4" text-anchor="end" font-weight="normal" fill="#111">4</text>
<line x1="757.50" y1="153.60" x2="757.50" y2="158.60" stroke="#111" stroke-width="1.3"/>
<line x1="771.75" y1="153.60" x2="771.75" y2="158.60" stroke="#111" stroke-width="1.3"/>
<line x1="786.00" y1="153.60" x2="786.00" y2="158.60" stroke="#111" stroke-width="1.3"/>
<line x1="800.25" y1="153.60" x2="800.25" y2="158.60" stroke="#111" stroke-width="1.3"/>
<line x1="814.50" y1="153.60" x2="814.50" y2="158.60" stroke="#111" stroke-width="1.3"/>
<line x1="828.75" y1="153.60" x2="828.75" y2="158.60" stroke="#111" stroke-width="1.3"/>
<line x1="843.00" y1="153.60" x2="843.00" y2="158.60" stroke="#111" stroke-width="1.3"/>
<line x1="857.25" y1="153.60" x2="857.25" y2="158.60" stroke="#111" stroke-width="1.3"/>
<line x1="871.50" y1="153.60" x2="871.50" y2="158.60" stroke="#111" stroke-width="1.3"/>
<line x1="885.75" y1="153.60" x2="885.75" y2="158.60" stroke="#111" stroke-width="1.3"/>
<line x1="900.00" y1="153.60" x2="900.00" y2="158.60" stroke="#111" stroke-width="1.3"/>
<line x1="914.25" y1="153.60" x2="914.25" y2="158.60" stroke="#111" stroke-width="1.3"/>
<line x1="928.50" y1="153.60" x2="928.50" y2="158.60" stroke="#111" stroke-width="1.3"/>
<line x1="942.75" y1="153.60" x2="942.75" y2="158.60" stroke="#111" stroke-width="1.3"/>
<path d="M793.12 66.60 L796.83 71.40 L793.12 76.20 L789.42 71.40 Z" fill="#111"/>
<path d="M807.38 76.00 L811.08 80.80 L807.38 85.60 L803.67 80.80 Z" fill="#111"/>
<path d="M821.62 45.30 L825.33 50.10 L821.62 54.90 L817.92 50.10 Z" fill="#111"/>
<path d="M835.88 74.30 L839.58 79.10 L835.88 83.90 L832.17 79.10 Z" fill="#111"/>
<path d="M850.12 66.60 L853.83 71.40 L850.12 76.20 L846.42 71.40 Z" fill="#111"/>
<rect x="763.00" y="268.20" width="7.50" height="50.30" fill="#ffffff" stroke="#111" stroke-width="1.3"/>
<rect x="763.65" y="268.85" width="6.20" height="6.90" fill="#ffffff"/>
<line x1="763.00" y1="275.75" x2="770.50" y2="275.75" stroke="#111" stroke-width="1.2"/>
<line x1="766.75" y1="260.66" x2="766.75" y2="275.75" stroke="#111" stroke-width="1.2"/>
<line x1="763.55" y1="260.66" x2="769.95" y2="260.66" stroke="#111" stroke-width="1.3"/>
<rect x="763.00" y="268.20" width="7.50" height="50.30" fill="none" stroke="#111" stroke-width="1.3"/>
<rect x="777.30" y="259.15" width="7.50" height="59.35" fill="#c3c3c3" stroke="#111" stroke-width="1.3"/>
<rect x="777.95" y="259.80" width="6.20" height="8.40" fill="#e2e2e2"/>
<line x1="777.30" y1="268.20" x2="784.80" y2="268.20" stroke="#111" stroke-width="1.2"/>
<line x1="781.05" y1="250.09" x2="781.05" y2="268.20" stroke="#111" stroke-width="1.2"/>
<line x1="777.85" y1="250.09" x2="784.25" y2="250.09" stroke="#111" stroke-width="1.3"/>
<rect x="777.30" y="259.15" width="7.50" height="59.35" fill="none" stroke="#111" stroke-width="1.3"/>
<rect x="791.60" y="249.09" width="7.50" height="69.41" fill="#555555" stroke="#111" stroke-width="1.3"/>
<rect x="792.25" y="249.74" width="6.20" height="10.42" fill="#6a6a6a"/>
<line x1="791.60" y1="260.15" x2="799.10" y2="260.15" stroke="#111" stroke-width="1.2"/>
<line x1="795.35" y1="238.02" x2="795.35" y2="260.15" stroke="#111" stroke-width="1.2"/>
<line x1="792.15" y1="238.02" x2="798.55" y2="238.02" stroke="#111" stroke-width="1.3"/>
<rect x="791.60" y="249.09" width="7.50" height="69.41" fill="none" stroke="#111" stroke-width="1.3"/>
<rect x="805.90" y="268.20" width="7.50" height="50.30" fill="#c3c3c3" stroke="#111" stroke-width="1.3"/>
<rect x="806.55" y="268.85" width="6.20" height="6.90" fill="#e2e2e2"/>
<line x1="805.90" y1="275.75" x2="813.40" y2="275.75" stroke="#111" stroke-width="1.2"/>
<line x1="809.65" y1="260.66" x2="809.65" y2="275.75" stroke="#111" stroke-width="1.2"/>
<line x1="806.45" y1="260.66" x2="812.85" y2="260.66" stroke="#111" stroke-width="1.3"/>
<rect x="805.90" y="268.20" width="7.50" height="50.30" fill="none" stroke="#111" stroke-width="1.3"/>
<rect x="820.20" y="255.12" width="7.50" height="63.38" fill="#555555" stroke="#111" stroke-width="1.3"/>
<rect x="820.85" y="255.77" width="6.20" height="8.91" fill="#6a6a6a"/>
<line x1="820.20" y1="264.68" x2="827.70" y2="264.68" stroke="#111" stroke-width="1.2"/>
<line x1="823.95" y1="245.56" x2="823.95" y2="264.68" stroke="#111" stroke-width="1.2"/>
<line x1="820.75" y1="245.56" x2="827.15" y2="245.56" stroke="#111" stroke-width="1.3"/>
<rect x="820.20" y="255.12" width="7.50" height="63.38" fill="none" stroke="#111" stroke-width="1.3"/>
<rect x="834.50" y="283.79" width="7.50" height="34.71" fill="#c3c3c3" stroke="#111" stroke-width="1.3"/>
<rect x="835.15" y="284.44" width="6.20" height="4.38" fill="#e2e2e2"/>
<line x1="834.50" y1="288.82" x2="842.00" y2="288.82" stroke="#111" stroke-width="1.2"/>
<line x1="838.25" y1="278.76" x2="838.25" y2="288.82" stroke="#111" stroke-width="1.2"/>
<line x1="835.05" y1="278.76" x2="841.45" y2="278.76" stroke="#111" stroke-width="1.3"/>
<rect x="834.50" y="283.79" width="7.50" height="34.71" fill="none" stroke="#111" stroke-width="1.3"/>
<rect x="848.80" y="271.22" width="7.50" height="47.28" fill="#555555" stroke="#111" stroke-width="1.3"/>
<rect x="849.45" y="271.87" width="6.20" height="6.90" fill="#6a6a6a"/>
<line x1="848.80" y1="278.76" x2="856.30" y2="278.76" stroke="#111" stroke-width="1.2"/>
<line x1="852.55" y1="263.67" x2="852.55" y2="278.76" stroke="#111" stroke-width="1.2"/>
<line x1="849.35" y1="263.67" x2="855.75" y2="263.67" stroke="#111" stroke-width="1.3"/>
<rect x="848.80" y="271.22" width="7.50" height="47.28" fill="none" stroke="#111" stroke-width="1.3"/>
<rect x="863.10" y="288.32" width="7.50" height="30.18" fill="#c3c3c3" stroke="#111" stroke-width="1.3"/>
<rect x="863.75" y="288.97" width="6.20" height="3.88" fill="#e2e2e2"/>
<line x1="863.10" y1="292.85" x2="870.60" y2="292.85" stroke="#111" stroke-width="1.2"/>
<line x1="866.85" y1="283.79" x2="866.85" y2="292.85" stroke="#111" stroke-width="1.2"/>
<line x1="863.65" y1="283.79" x2="870.05" y2="283.79" stroke="#111" stroke-width="1.3"/>
<rect x="863.10" y="288.32" width="7.50" height="30.18" fill="none" stroke="#111" stroke-width="1.3"/>
<rect x="877.40" y="269.71" width="7.50" height="48.79" fill="#555555" stroke="#111" stroke-width="1.3"/>
<rect x="878.05" y="270.36" width="6.20" height="7.40" fill="#6a6a6a"/>
<line x1="877.40" y1="277.76" x2="884.90" y2="277.76" stroke="#111" stroke-width="1.2"/>
<line x1="881.15" y1="261.66" x2="881.15" y2="277.76" stroke="#111" stroke-width="1.2"/>
<line x1="877.95" y1="261.66" x2="884.35" y2="261.66" stroke="#111" stroke-width="1.3"/>
<rect x="877.40" y="269.71" width="7.50" height="48.79" fill="none" stroke="#111" stroke-width="1.3"/>
<rect x="891.70" y="292.85" width="7.50" height="25.65" fill="#c3c3c3" stroke="#111" stroke-width="1.3"/>
<rect x="892.35" y="293.50" width="6.20" height="2.87" fill="#e2e2e2"/>
<line x1="891.70" y1="296.37" x2="899.20" y2="296.37" stroke="#111" stroke-width="1.2"/>
<line x1="895.45" y1="289.33" x2="895.45" y2="296.37" stroke="#111" stroke-width="1.2"/>
<line x1="892.25" y1="289.33" x2="898.65" y2="289.33" stroke="#111" stroke-width="1.3"/>
<rect x="891.70" y="292.85" width="7.50" height="25.65" fill="none" stroke="#111" stroke-width="1.3"/>
<rect x="906.00" y="272.22" width="7.50" height="46.28" fill="#555555" stroke="#111" stroke-width="1.3"/>
<rect x="906.65" y="272.87" width="6.20" height="5.89" fill="#6a6a6a"/>
<line x1="906.00" y1="278.76" x2="913.50" y2="278.76" stroke="#111" stroke-width="1.2"/>
<line x1="909.75" y1="265.69" x2="909.75" y2="278.76" stroke="#111" stroke-width="1.2"/>
<line x1="906.55" y1="265.69" x2="912.95" y2="265.69" stroke="#111" stroke-width="1.3"/>
<rect x="906.00" y="272.22" width="7.50" height="46.28" fill="none" stroke="#111" stroke-width="1.3"/>
<rect x="920.30" y="286.81" width="7.50" height="31.69" fill="#c3c3c3" stroke="#111" stroke-width="1.3"/>
<rect x="920.95" y="287.46" width="6.20" height="3.88" fill="#e2e2e2"/>
<line x1="920.30" y1="291.34" x2="927.80" y2="291.34" stroke="#111" stroke-width="1.2"/>
<line x1="924.05" y1="282.28" x2="924.05" y2="291.34" stroke="#111" stroke-width="1.2"/>
<line x1="920.85" y1="282.28" x2="927.25" y2="282.28" stroke="#111" stroke-width="1.3"/>
<rect x="920.30" y="286.81" width="7.50" height="31.69" fill="none" stroke="#111" stroke-width="1.3"/>
<rect x="934.60" y="268.20" width="7.50" height="50.30" fill="#555555" stroke="#111" stroke-width="1.3"/>
<rect x="935.25" y="268.85" width="6.20" height="7.40" fill="#6a6a6a"/>
<line x1="934.60" y1="276.25" x2="942.10" y2="276.25" stroke="#111" stroke-width="1.2"/>
<line x1="938.35" y1="260.15" x2="938.35" y2="276.25" stroke="#111" stroke-width="1.2"/>
<line x1="935.15" y1="260.15" x2="941.55" y2="260.15" stroke="#111" stroke-width="1.3"/>
<rect x="934.60" y="268.20" width="7.50" height="50.30" fill="none" stroke="#111" stroke-width="1.3"/>
<line x1="759.60" y1="217.90" x2="759.60" y2="319.10" stroke="#111" stroke-width="1.4"/>
<line x1="754.60" y1="318.50" x2="945.50" y2="318.50" stroke="#111" stroke-width="1.4"/>
<line x1="754.60" y1="318.50" x2="759.60" y2="318.50" stroke="#111" stroke-width="1.3"/>
<text x="749.20" y="323.40" font-size="15.4" text-anchor="end" font-weight="normal" fill="#111">0</text>
<line x1="754.60" y1="293.35" x2="759.60" y2="293.35" stroke="#111" stroke-width="1.3"/>
<text x="749.20" y="298.25" font-size="15.4" text-anchor="end" font-weight="normal" fill="#111">0.5</text>
<line x1="754.60" y1="268.20" x2="759.60" y2="268.20" stroke="#111" stroke-width="1.3"/>
<text x="749.20" y="273.10" font-size="15.4" text-anchor="end" font-weight="normal" fill="#111">1</text>
<line x1="754.60" y1="243.05" x2="759.60" y2="243.05" stroke="#111" stroke-width="1.3"/>
<text x="749.20" y="247.95" font-size="15.4" text-anchor="end" font-weight="normal" fill="#111">1.5</text>
<line x1="754.60" y1="217.90" x2="759.60" y2="217.90" stroke="#111" stroke-width="1.3"/>
<text x="749.20" y="222.80" font-size="15.4" text-anchor="end" font-weight="normal" fill="#111">2</text>
<line x1="759.60" y1="318.50" x2="759.60" y2="323.50" stroke="#111" stroke-width="1.3"/>
<line x1="773.90" y1="318.50" x2="773.90" y2="323.50" stroke="#111" stroke-width="1.3"/>
<line x1="788.20" y1="318.50" x2="788.20" y2="323.50" stroke="#111" stroke-width="1.3"/>
<line x1="802.50" y1="318.50" x2="802.50" y2="323.50" stroke="#111" stroke-width="1.3"/>
<line x1="816.80" y1="318.50" x2="816.80" y2="323.50" stroke="#111" stroke-width="1.3"/>
<line x1="831.10" y1="318.50" x2="831.10" y2="323.50" stroke="#111" stroke-width="1.3"/>
<line x1="845.40" y1="318.50" x2="845.40" y2="323.50" stroke="#111" stroke-width="1.3"/>
<line x1="859.70" y1="318.50" x2="859.70" y2="323.50" stroke="#111" stroke-width="1.3"/>
<line x1="874.00" y1="318.50" x2="874.00" y2="323.50" stroke="#111" stroke-width="1.3"/>
<line x1="888.30" y1="318.50" x2="888.30" y2="323.50" stroke="#111" stroke-width="1.3"/>
<line x1="902.60" y1="318.50" x2="902.60" y2="323.50" stroke="#111" stroke-width="1.3"/>
<line x1="916.90" y1="318.50" x2="916.90" y2="323.50" stroke="#111" stroke-width="1.3"/>
<line x1="931.20" y1="318.50" x2="931.20" y2="323.50" stroke="#111" stroke-width="1.3"/>
<line x1="945.50" y1="318.50" x2="945.50" y2="323.50" stroke="#111" stroke-width="1.3"/>
<path d="M838.25 264.40 L841.95 269.20 L838.25 274.00 L834.55 269.20 Z" fill="#111"/>
<path d="M866.85 269.00 L870.55 273.80 L866.85 278.60 L863.15 273.80 Z" fill="#111"/>
<path d="M895.45 276.20 L899.15 281.00 L895.45 285.80 L891.75 281.00 Z" fill="#111"/>
<path d="M924.05 267.50 L927.75 272.30 L924.05 277.10 L920.35 272.30 Z" fill="#111"/>
<path d="M881.15 251.60 L881.15 248.30 M881.15 251.60 L884.29 250.58 M881.15 251.60 L878.01 250.58 M881.15 251.60 L883.09 254.27 M881.15 251.60 L879.21 254.27 " stroke="#111" stroke-width="1.5" stroke-linecap="butt" fill="none"/>
<path d="M909.75 255.80 L909.75 252.50 M909.75 255.80 L912.89 254.78 M909.75 255.80 L906.61 254.78 M909.75 255.80 L911.69 258.47 M909.75 255.80 L907.81 258.47 " stroke="#111" stroke-width="1.5" stroke-linecap="butt" fill="none"/>
<path d="M938.35 251.00 L938.35 247.70 M938.35 251.00 L941.49 249.98 M938.35 251.00 L935.21 249.98 M938.35 251.00 L940.29 253.67 M938.35 251.00 L936.41 253.67 " stroke="#111" stroke-width="1.5" stroke-linecap="butt" fill="none"/>
<rect x="756.90" y="433.55" width="7.50" height="62.25" fill="#ffffff" stroke="#111" stroke-width="1.3"/>
<rect x="757.55" y="434.20" width="6.20" height="5.77" fill="#ffffff"/>
<line x1="756.90" y1="439.97" x2="764.40" y2="439.97" stroke="#111" stroke-width="1.2"/>
<line x1="760.65" y1="427.14" x2="760.65" y2="439.97" stroke="#111" stroke-width="1.2"/>
<line x1="757.45" y1="427.14" x2="763.85" y2="427.14" stroke="#111" stroke-width="1.3"/>
<rect x="756.90" y="433.55" width="7.50" height="62.25" fill="none" stroke="#111" stroke-width="1.3"/>
<rect x="771.60" y="436.01" width="7.50" height="59.79" fill="#c3c3c3" stroke="#111" stroke-width="1.3"/>
<rect x="772.25" y="436.66" width="6.20" height="5.51" fill="#e2e2e2"/>
<line x1="771.60" y1="442.17" x2="779.10" y2="442.17" stroke="#111" stroke-width="1.2"/>
<line x1="775.35" y1="429.84" x2="775.35" y2="442.17" stroke="#111" stroke-width="1.2"/>
<line x1="772.15" y1="429.84" x2="778.55" y2="429.84" stroke="#111" stroke-width="1.3"/>
<rect x="771.60" y="436.01" width="7.50" height="59.79" fill="none" stroke="#111" stroke-width="1.3"/>
<rect x="786.30" y="434.45" width="7.50" height="61.35" fill="#444444" stroke="#111" stroke-width="1.3"/>
<rect x="786.95" y="435.10" width="6.20" height="5.36" fill="#585858"/>
<line x1="786.30" y1="440.47" x2="793.80" y2="440.47" stroke="#111" stroke-width="1.2"/>
<line x1="790.05" y1="428.44" x2="790.05" y2="440.47" stroke="#111" stroke-width="1.2"/>
<line x1="786.85" y1="428.44" x2="793.25" y2="428.44" stroke="#111" stroke-width="1.3"/>
<rect x="786.30" y="434.45" width="7.50" height="61.35" fill="none" stroke="#111" stroke-width="1.3"/>
<rect x="801.00" y="440.82" width="7.50" height="54.98" fill="#c3c3c3" stroke="#111" stroke-width="1.3"/>
<rect x="801.65" y="441.47" width="6.20" height="4.76" fill="#e2e2e2"/>
<line x1="801.00" y1="446.23" x2="808.50" y2="446.23" stroke="#111" stroke-width="1.2"/>
<line x1="804.75" y1="435.41" x2="804.75" y2="446.23" stroke="#111" stroke-width="1.2"/>
<line x1="801.55" y1="435.41" x2="807.95" y2="435.41" stroke="#111" stroke-width="1.3"/>
<rect x="801.00" y="440.82" width="7.50" height="54.98" fill="none" stroke="#111" stroke-width="1.3"/>
<rect x="815.70" y="430.89" width="7.50" height="64.91" fill="#444444" stroke="#111" stroke-width="1.3"/>
<rect x="816.35" y="431.54" width="6.20" height="6.02" fill="#585858"/>
<line x1="815.70" y1="437.56" x2="823.20" y2="437.56" stroke="#111" stroke-width="1.2"/>
<line x1="819.45" y1="424.23" x2="819.45" y2="437.56" stroke="#111" stroke-width="1.2"/>
<line x1="816.25" y1="424.23" x2="822.65" y2="424.23" stroke="#111" stroke-width="1.3"/>
<rect x="815.70" y="430.89" width="7.50" height="64.91" fill="none" stroke="#111" stroke-width="1.3"/>
<rect x="830.40" y="451.04" width="7.50" height="44.76" fill="#c3c3c3" stroke="#111" stroke-width="1.3"/>
<rect x="831.05" y="451.69" width="6.20" height="3.96" fill="#e2e2e2"/>
<line x1="830.40" y1="455.65" x2="837.90" y2="455.65" stroke="#111" stroke-width="1.2"/>
<line x1="834.15" y1="446.43" x2="834.15" y2="455.65" stroke="#111" stroke-width="1.2"/>
<line x1="830.95" y1="446.43" x2="837.35" y2="446.43" stroke="#111" stroke-width="1.3"/>
<rect x="830.40" y="451.04" width="7.50" height="44.76" fill="none" stroke="#111" stroke-width="1.3"/>
<rect x="845.10" y="425.73" width="7.50" height="70.07" fill="#444444" stroke="#111" stroke-width="1.3"/>
<rect x="845.75" y="426.38" width="6.20" height="6.27" fill="#585858"/>
<line x1="845.10" y1="432.65" x2="852.60" y2="432.65" stroke="#111" stroke-width="1.2"/>
<line x1="848.85" y1="418.82" x2="848.85" y2="432.65" stroke="#111" stroke-width="1.2"/>
<line x1="845.65" y1="418.82" x2="852.05" y2="418.82" stroke="#111" stroke-width="1.3"/>
<rect x="845.10" y="425.73" width="7.50" height="70.07" fill="none" stroke="#111" stroke-width="1.3"/>
<rect x="859.80" y="464.07" width="7.50" height="31.73" fill="#c3c3c3" stroke="#111" stroke-width="1.3"/>
<rect x="860.45" y="464.72" width="6.20" height="2.86" fill="#e2e2e2"/>
<line x1="859.80" y1="467.58" x2="867.30" y2="467.58" stroke="#111" stroke-width="1.2"/>
<line x1="863.55" y1="460.57" x2="863.55" y2="467.58" stroke="#111" stroke-width="1.2"/>
<line x1="860.35" y1="460.57" x2="866.75" y2="460.57" stroke="#111" stroke-width="1.3"/>
<rect x="859.80" y="464.07" width="7.50" height="31.73" fill="none" stroke="#111" stroke-width="1.3"/>
<rect x="874.50" y="440.82" width="7.50" height="54.98" fill="#444444" stroke="#111" stroke-width="1.3"/>
<rect x="875.15" y="441.47" width="6.20" height="4.76" fill="#585858"/>
<line x1="874.50" y1="446.23" x2="882.00" y2="446.23" stroke="#111" stroke-width="1.2"/>
<line x1="878.25" y1="435.41" x2="878.25" y2="446.23" stroke="#111" stroke-width="1.2"/>
<line x1="875.05" y1="435.41" x2="881.45" y2="435.41" stroke="#111" stroke-width="1.3"/>
<rect x="874.50" y="440.82" width="7.50" height="54.98" fill="none" stroke="#111" stroke-width="1.3"/>
<rect x="889.20" y="471.39" width="7.50" height="24.41" fill="#c3c3c3" stroke="#111" stroke-width="1.3"/>
<rect x="889.85" y="472.04" width="6.20" height="1.86" fill="#e2e2e2"/>
<line x1="889.20" y1="473.90" x2="896.70" y2="473.90" stroke="#111" stroke-width="1.2"/>
<line x1="892.95" y1="468.89" x2="892.95" y2="473.90" stroke="#111" stroke-width="1.2"/>
<line x1="889.75" y1="468.89" x2="896.15" y2="468.89" stroke="#111" stroke-width="1.3"/>
<rect x="889.20" y="471.39" width="7.50" height="24.41" fill="none" stroke="#111" stroke-width="1.3"/>
<rect x="903.90" y="438.51" width="7.50" height="57.29" fill="#444444" stroke="#111" stroke-width="1.3"/>
<rect x="904.55" y="439.16" width="6.20" height="5.31" fill="#585858"/>
<line x1="903.90" y1="444.48" x2="911.40" y2="444.48" stroke="#111" stroke-width="1.2"/>
<line x1="907.65" y1="432.55" x2="907.65" y2="444.48" stroke="#111" stroke-width="1.2"/>
<line x1="904.45" y1="432.55" x2="910.85" y2="432.55" stroke="#111" stroke-width="1.3"/>
<rect x="903.90" y="438.51" width="7.50" height="57.29" fill="none" stroke="#111" stroke-width="1.3"/>
<rect x="918.60" y="481.06" width="7.50" height="14.74" fill="#c3c3c3" stroke="#111" stroke-width="1.3"/>
<rect x="919.25" y="481.71" width="6.20" height="0.80" fill="#e2e2e2"/>
<line x1="918.60" y1="482.52" x2="926.10" y2="482.52" stroke="#111" stroke-width="1.2"/>
<line x1="922.35" y1="479.61" x2="922.35" y2="482.52" stroke="#111" stroke-width="1.2"/>
<line x1="919.15" y1="479.61" x2="925.55" y2="479.61" stroke="#111" stroke-width="1.3"/>
<rect x="918.60" y="481.06" width="7.50" height="14.74" fill="none" stroke="#111" stroke-width="1.3"/>
<rect x="933.30" y="443.73" width="7.50" height="52.07" fill="#444444" stroke="#111" stroke-width="1.3"/>
<rect x="933.95" y="444.38" width="6.20" height="4.91" fill="#585858"/>
<line x1="933.30" y1="449.29" x2="940.80" y2="449.29" stroke="#111" stroke-width="1.2"/>
<line x1="937.05" y1="438.16" x2="937.05" y2="449.29" stroke="#111" stroke-width="1.2"/>
<line x1="933.85" y1="438.16" x2="940.25" y2="438.16" stroke="#111" stroke-width="1.3"/>
<rect x="933.30" y="443.73" width="7.50" height="52.07" fill="none" stroke="#111" stroke-width="1.3"/>
<line x1="753.30" y1="395.56" x2="753.30" y2="496.40" stroke="#111" stroke-width="1.4"/>
<line x1="748.30" y1="495.80" x2="944.40" y2="495.80" stroke="#111" stroke-width="1.4"/>
<line x1="748.30" y1="495.80" x2="753.30" y2="495.80" stroke="#111" stroke-width="1.3"/>
<text x="742.90" y="500.70" font-size="15.4" text-anchor="end" font-weight="normal" fill="#111">0</text>
<line x1="748.30" y1="470.74" x2="753.30" y2="470.74" stroke="#111" stroke-width="1.3"/>
<text x="742.90" y="475.64" font-size="15.4" text-anchor="end" font-weight="normal" fill="#111">500</text>
<line x1="748.30" y1="445.68" x2="753.30" y2="445.68" stroke="#111" stroke-width="1.3"/>
<text x="742.90" y="450.58" font-size="15.4" text-anchor="end" font-weight="normal" fill="#111">1,000</text>
<line x1="748.30" y1="420.62" x2="753.30" y2="420.62" stroke="#111" stroke-width="1.3"/>
<text x="742.90" y="425.52" font-size="15.4" text-anchor="end" font-weight="normal" fill="#111">1,500</text>
<line x1="748.30" y1="395.56" x2="753.30" y2="395.56" stroke="#111" stroke-width="1.3"/>
<text x="742.90" y="400.46" font-size="15.4" text-anchor="end" font-weight="normal" fill="#111">2,000</text>
<line x1="753.30" y1="495.80" x2="753.30" y2="500.80" stroke="#111" stroke-width="1.3"/>
<line x1="768.00" y1="495.80" x2="768.00" y2="500.80" stroke="#111" stroke-width="1.3"/>
<line x1="782.70" y1="495.80" x2="782.70" y2="500.80" stroke="#111" stroke-width="1.3"/>
<line x1="797.40" y1="495.80" x2="797.40" y2="500.80" stroke="#111" stroke-width="1.3"/>
<line x1="812.10" y1="495.80" x2="812.10" y2="500.80" stroke="#111" stroke-width="1.3"/>
<line x1="826.80" y1="495.80" x2="826.80" y2="500.80" stroke="#111" stroke-width="1.3"/>
<line x1="841.50" y1="495.80" x2="841.50" y2="500.80" stroke="#111" stroke-width="1.3"/>
<line x1="856.20" y1="495.80" x2="856.20" y2="500.80" stroke="#111" stroke-width="1.3"/>
<line x1="870.90" y1="495.80" x2="870.90" y2="500.80" stroke="#111" stroke-width="1.3"/>
<line x1="885.60" y1="495.80" x2="885.60" y2="500.80" stroke="#111" stroke-width="1.3"/>
<line x1="900.30" y1="495.80" x2="900.30" y2="500.80" stroke="#111" stroke-width="1.3"/>
<line x1="915.00" y1="495.80" x2="915.00" y2="500.80" stroke="#111" stroke-width="1.3"/>
<line x1="929.70" y1="495.80" x2="929.70" y2="500.80" stroke="#111" stroke-width="1.3"/>
<line x1="944.40" y1="495.80" x2="944.40" y2="500.80" stroke="#111" stroke-width="1.3"/>
<path d="M834.15 431.10 L837.85 435.90 L834.15 440.70 L830.45 435.90 Z" fill="#111"/>
<path d="M863.55 446.30 L867.25 451.10 L863.55 455.90 L859.85 451.10 Z" fill="#111"/>
<path d="M892.95 453.90 L896.65 458.70 L892.95 463.50 L889.25 458.70 Z" fill="#111"/>
<path d="M922.35 465.70 L926.05 470.50 L922.35 475.30 L918.65 470.50 Z" fill="#111"/>
<path d="M848.85 409.00 L848.85 405.70 M848.85 409.00 L851.99 407.98 M848.85 409.00 L845.71 407.98 M848.85 409.00 L850.79 411.67 M848.85 409.00 L846.91 411.67 " stroke="#111" stroke-width="1.5" stroke-linecap="butt" fill="none"/>
<path d="M878.25 427.20 L878.25 423.90 M878.25 427.20 L881.39 426.18 M878.25 427.20 L875.11 426.18 M878.25 427.20 L880.19 429.87 M878.25 427.20 L876.31 429.87 " stroke="#111" stroke-width="1.5" stroke-linecap="butt" fill="none"/>
<path d="M907.65 423.50 L907.65 420.20 M907.65 423.50 L910.79 422.48 M907.65 423.50 L904.51 422.48 M907.65 423.50 L909.59 426.17 M907.65 423.50 L905.71 426.17 " stroke="#111" stroke-width="1.5" stroke-linecap="butt" fill="none"/>
<path d="M937.05 428.30 L937.05 425.00 M937.05 428.30 L940.19 427.28 M937.05 428.30 L933.91 427.28 M937.05 428.30 L938.99 430.97 M937.05 428.30 L935.11 430.97 " stroke="#111" stroke-width="1.5" stroke-linecap="butt" fill="none"/>
<rect x="552.20" y="6.60" width="8.80" height="8.20" fill="#ffffff" stroke="#111" stroke-width="1.3"/>
<rect x="552.20" y="30.30" width="8.80" height="8.20" fill="#c3c3c3" stroke="#111" stroke-width="1.3"/>
<rect x="552.20" y="51.80" width="8.80" height="8.20" fill="#5c5c5c" stroke="#111" stroke-width="1.3"/>
<text x="565.00" y="15.00" font-size="12.3" text-anchor="start" font-weight="normal" fill="#111">UT</text>
<text x="565.00" y="38.40" font-size="12.3" text-anchor="start" font-weight="normal" fill="#111">T</text>
<text x="572.40" y="43.60" font-size="11.5" text-anchor="start" font-weight="normal" fill="#111">CC</text>
<text x="565.00" y="59.90" font-size="12.3" text-anchor="start" font-weight="normal" fill="#111">T</text>
<text x="572.40" y="65.60" font-size="11.5" text-anchor="start" font-weight="normal" fill="#111">CC+CTLA4</text>
<text x="397.00" y="89.50" font-size="15.3" text-anchor="middle" font-weight="normal" fill="#111" transform="rotate(-90 397.00 89.50)">HK2 mRNA</text>
<text x="415.00" y="89.50" font-size="15.3" text-anchor="middle" font-weight="normal" fill="#111" transform="rotate(-90 415.00 89.50)">(fold change)</text>
<text x="397.00" y="262.60" font-size="15.3" text-anchor="middle" font-weight="normal" fill="#111" transform="rotate(-90 397.00 262.60)" textLength="102.5" lengthAdjust="spacingAndGlyphs">SNAT1 mRNA</text>
<text x="415.00" y="265.50" font-size="15.3" text-anchor="middle" font-weight="normal" fill="#111" transform="rotate(-90 415.00 265.50)" textLength="89" lengthAdjust="spacingAndGlyphs">(fold change)</text>
<text x="397.00" y="441.50" font-size="15.3" text-anchor="middle" font-weight="normal" fill="#111" transform="rotate(-90 397.00 441.50)" textLength="99" lengthAdjust="spacingAndGlyphs">SNAT2 mRNA</text>
<text x="415.00" y="442.70" font-size="15.3" text-anchor="middle" font-weight="normal" fill="#111" transform="rotate(-90 415.00 442.70)" textLength="89" lengthAdjust="spacingAndGlyphs">(fold change)</text>
<text x="698.40" y="99.00" font-size="15.3" text-anchor="middle" font-weight="normal" fill="#111" transform="rotate(-90 698.40 99.00)">CPT1A&#160; mRNA</text>
<text x="716.00" y="99.00" font-size="15.3" text-anchor="middle" font-weight="normal" fill="#111" transform="rotate(-90 716.00 99.00)">(fold change)</text>
<text x="698.40" y="268.20" font-size="15.3" text-anchor="middle" font-weight="normal" fill="#111" transform="rotate(-90 698.40 268.20)" textLength="89" lengthAdjust="spacingAndGlyphs">ATGL mRNA</text>
<text x="716.00" y="270.90" font-size="15.3" text-anchor="middle" font-weight="normal" fill="#111" transform="rotate(-90 716.00 270.90)" textLength="89" lengthAdjust="spacingAndGlyphs">(fold change)</text>
<text x="680.30" y="445.50" font-size="15.3" text-anchor="middle" font-weight="normal" fill="#111" transform="rotate(-90 680.30 445.50)">Palmitate oxidation</text>
<text x="699.0" y="444.6" font-size="15.2" text-anchor="middle" fill="#111" transform="rotate(-90 699.0 444.6)">(CPM×10<tspan font-size="10.8" dy="-7">3</tspan><tspan dy="7">/1×10</tspan><tspan font-size="10.8" dy="-7">6</tspan><tspan dy="7"> cells)</tspan></text>
<text x="461.00" y="519.00" font-size="14.8" text-anchor="middle" font-weight="normal" fill="#111">0</text>
<text x="488.20" y="519.00" font-size="14.8" text-anchor="middle" font-weight="normal" fill="#111">6</text>
<text x="515.30" y="519.00" font-size="14.8" text-anchor="middle" font-weight="normal" fill="#111">12</text>
<text x="541.40" y="519.00" font-size="14.8" text-anchor="middle" font-weight="normal" fill="#111">24</text>
<text x="568.50" y="519.00" font-size="14.8" text-anchor="middle" font-weight="normal" fill="#111">48</text>
<text x="595.00" y="519.00" font-size="14.8" text-anchor="middle" font-weight="normal" fill="#111">72</text>
<text x="621.70" y="519.00" font-size="14.8" text-anchor="middle" font-weight="normal" fill="#111">96</text>
<text x="760.80" y="519.00" font-size="14.8" text-anchor="middle" font-weight="normal" fill="#111">0</text>
<text x="788.30" y="519.00" font-size="14.8" text-anchor="middle" font-weight="normal" fill="#111">6</text>
<text x="817.30" y="519.00" font-size="14.8" text-anchor="middle" font-weight="normal" fill="#111">12</text>
<text x="844.90" y="519.00" font-size="14.8" text-anchor="middle" font-weight="normal" fill="#111">24</text>
<text x="872.60" y="519.00" font-size="14.8" text-anchor="middle" font-weight="normal" fill="#111">48</text>
<text x="900.60" y="519.00" font-size="14.8" text-anchor="middle" font-weight="normal" fill="#111">72</text>
<text x="928.60" y="519.00" font-size="14.8" text-anchor="middle" font-weight="normal" fill="#111">96</text>
<text x="545.50" y="541.40" font-size="15.3" text-anchor="middle" font-weight="normal" fill="#111">Stimulation time (h)</text>
<text x="848.60" y="541.40" font-size="15.3" text-anchor="middle" font-weight="normal" fill="#111">Stimulation time (h)</text>
<path d="M62.00 224.20 L90.00 223.50 L99.70 220.00 L110.60 212.10 L118.40 201.20 L125.40 185.70 L130.00 162.30 L134.70 131.20 L137.00 103.10 L137.60 104.10 L139.50 105.70 L141.50 103.60 L143.60 106.80 L144.70 117.60 L146.30 136.60 L151.00 165.90 L152.60 181.70 L155.00 197.60 L158.20 210.30 L162.10 219.80 L167.70 223.30 L172.40 224.20 L172.40 224.90 L62.00 224.90 Z" fill="#c3c3c3" stroke="#c3c3c3" stroke-width="0.6" stroke-linejoin="round"/>
<path d="M61.7 224.90 L61.9 202.00 L63.6 224.40" stroke="#2a78bb" stroke-width="1.2" fill="none"/>
<path d="M62.00 224.10 L62.00 224.20 L85.00 223.50 L102.80 220.00 L113.70 212.10 L121.50 201.20 L126.90 185.70 L132.40 162.30 L137.80 131.20 L141.70 103.10 L145.50 85.90 L147.60 84.70 L149.00 87.80 L149.80 101.70 L151.00 125.50 L152.60 149.30 L155.80 181.70 L160.60 205.50 L167.70 219.80 L174.00 223.70 L178.80 224.20 L278.30 224.10" stroke="#111" stroke-width="1.5" fill="none" stroke-linejoin="round" stroke-dasharray="4.2 2.6"/>
<path d="M62.00 224.10 L62.00 224.20 L90.00 223.80 L107.50 220.00 L121.50 212.10 L128.50 201.20 L133.20 185.70 L137.00 162.30 L142.50 131.20 L147.10 111.20 L149.00 97.00 L151.00 84.60 L152.60 85.90 L155.00 98.50 L157.40 117.60 L159.80 149.30 L162.10 165.90 L165.30 189.60 L169.30 207.10 L172.40 216.60 L177.20 222.60 L183.50 224.20 L278.30 224.10" stroke="#111" stroke-width="1.5" fill="none" stroke-linejoin="round"/>
<path d="M62.00 224.10 L62.00 224.20 L100.00 224.00 L107.50 221.50 L121.50 216.80 L132.40 209.00 L137.00 201.20 L141.70 185.70 L144.80 162.30 L150.30 133.40 L151.80 122.30 L154.20 117.60 L156.60 109.60 L158.50 103.30 L160.60 105.70 L162.90 104.90 L164.50 101.70 L166.40 93.50 L168.50 103.30 L170.90 111.20 L173.20 125.50 L175.60 149.30 L178.00 165.90 L181.20 189.60 L184.30 210.30 L187.50 221.30 L192.30 224.20 L278.30 224.10" stroke="#2a78bb" stroke-width="1.5" fill="none" stroke-linejoin="round"/>
<path d="M62.00 224.10 L62.00 224.20 L110.00 224.00 L126.20 221.50 L135.50 216.80 L141.70 209.00 L144.80 193.50 L151.00 178.50 L154.20 162.70 L157.40 153.20 L160.00 149.00 L164.50 164.30 L169.30 165.90 L172.40 161.10 L178.00 138.20 L180.40 130.30 L182.00 117.60 L183.50 101.70 L185.10 95.40 L186.70 96.20 L188.30 94.60 L189.90 97.00 L192.30 112.80 L194.60 125.50 L197.00 149.30 L199.40 165.90 L204.20 189.60 L208.90 207.10 L215.30 219.80 L222.40 224.20 L278.30 224.10" stroke="#dc2a2c" stroke-width="1.5" fill="none" stroke-linejoin="round"/>
<rect x="61.10" y="74.30" width="217.70" height="150.60" fill="none" stroke="#111" stroke-width="1.6"/>
<line x1="55.30" y1="224.90" x2="61.10" y2="224.90" stroke="#111" stroke-width="1.3"/>
<line x1="58.30" y1="217.73" x2="61.10" y2="217.73" stroke="#111" stroke-width="1.3"/>
<line x1="58.30" y1="210.56" x2="61.10" y2="210.56" stroke="#111" stroke-width="1.3"/>
<line x1="58.30" y1="203.39" x2="61.10" y2="203.39" stroke="#111" stroke-width="1.3"/>
<line x1="55.30" y1="196.22" x2="61.10" y2="196.22" stroke="#111" stroke-width="1.3"/>
<line x1="58.30" y1="189.05" x2="61.10" y2="189.05" stroke="#111" stroke-width="1.3"/>
<line x1="58.30" y1="181.88" x2="61.10" y2="181.88" stroke="#111" stroke-width="1.3"/>
<line x1="58.30" y1="174.71" x2="61.10" y2="174.71" stroke="#111" stroke-width="1.3"/>
<line x1="55.30" y1="167.54" x2="61.10" y2="167.54" stroke="#111" stroke-width="1.3"/>
<line x1="58.30" y1="160.37" x2="61.10" y2="160.37" stroke="#111" stroke-width="1.3"/>
<line x1="58.30" y1="153.20" x2="61.10" y2="153.20" stroke="#111" stroke-width="1.3"/>
<line x1="58.30" y1="146.03" x2="61.10" y2="146.03" stroke="#111" stroke-width="1.3"/>
<line x1="55.30" y1="138.86" x2="61.10" y2="138.86" stroke="#111" stroke-width="1.3"/>
<line x1="58.30" y1="131.69" x2="61.10" y2="131.69" stroke="#111" stroke-width="1.3"/>
<line x1="58.30" y1="124.52" x2="61.10" y2="124.52" stroke="#111" stroke-width="1.3"/>
<line x1="58.30" y1="117.35" x2="61.10" y2="117.35" stroke="#111" stroke-width="1.3"/>
<line x1="55.30" y1="110.18" x2="61.10" y2="110.18" stroke="#111" stroke-width="1.3"/>
<line x1="58.30" y1="103.01" x2="61.10" y2="103.01" stroke="#111" stroke-width="1.3"/>
<line x1="58.30" y1="95.84" x2="61.10" y2="95.84" stroke="#111" stroke-width="1.3"/>
<line x1="58.30" y1="88.67" x2="61.10" y2="88.67" stroke="#111" stroke-width="1.3"/>
<line x1="55.30" y1="81.50" x2="61.10" y2="81.50" stroke="#111" stroke-width="1.3"/>
<text x="49.40" y="229.10" font-size="14.8" text-anchor="end" font-weight="normal" fill="#111">0</text>
<text x="49.40" y="200.42" font-size="14.8" text-anchor="end" font-weight="normal" fill="#111">20</text>
<text x="49.40" y="171.74" font-size="14.8" text-anchor="end" font-weight="normal" fill="#111">40</text>
<text x="49.40" y="143.06" font-size="14.8" text-anchor="end" font-weight="normal" fill="#111">60</text>
<text x="49.40" y="114.38" font-size="14.8" text-anchor="end" font-weight="normal" fill="#111">80</text>
<text x="49.40" y="85.70" font-size="14.8" text-anchor="end" font-weight="normal" fill="#111">100</text>
<line x1="61.60" y1="224.90" x2="61.60" y2="229.50" stroke="#111" stroke-width="1.3"/>
<text x="51.20" y="250.50" font-size="14.5" fill="#111">10<tspan font-size="10.2" dy="-4.9">0</tspan></text>
<line x1="73.63" y1="224.90" x2="73.63" y2="227.50" stroke="#111" stroke-width="1.1"/>
<line x1="80.66" y1="224.90" x2="80.66" y2="227.50" stroke="#111" stroke-width="1.1"/>
<line x1="85.65" y1="224.90" x2="85.65" y2="227.50" stroke="#111" stroke-width="1.1"/>
<line x1="89.52" y1="224.90" x2="89.52" y2="227.50" stroke="#111" stroke-width="1.1"/>
<line x1="92.69" y1="224.90" x2="92.69" y2="227.50" stroke="#111" stroke-width="1.1"/>
<line x1="95.36" y1="224.90" x2="95.36" y2="227.50" stroke="#111" stroke-width="1.1"/>
<line x1="97.68" y1="224.90" x2="97.68" y2="227.50" stroke="#111" stroke-width="1.1"/>
<line x1="99.72" y1="224.90" x2="99.72" y2="227.50" stroke="#111" stroke-width="1.1"/>
<line x1="101.55" y1="224.90" x2="101.55" y2="229.50" stroke="#111" stroke-width="1.3"/>
<text x="91.15" y="250.50" font-size="14.5" fill="#111">10<tspan font-size="10.2" dy="-4.9">1</tspan></text>
<line x1="113.58" y1="224.90" x2="113.58" y2="227.50" stroke="#111" stroke-width="1.1"/>
<line x1="120.61" y1="224.90" x2="120.61" y2="227.50" stroke="#111" stroke-width="1.1"/>
<line x1="125.60" y1="224.90" x2="125.60" y2="227.50" stroke="#111" stroke-width="1.1"/>
<line x1="129.47" y1="224.90" x2="129.47" y2="227.50" stroke="#111" stroke-width="1.1"/>
<line x1="132.64" y1="224.90" x2="132.64" y2="227.50" stroke="#111" stroke-width="1.1"/>
<line x1="135.31" y1="224.90" x2="135.31" y2="227.50" stroke="#111" stroke-width="1.1"/>
<line x1="137.63" y1="224.90" x2="137.63" y2="227.50" stroke="#111" stroke-width="1.1"/>
<line x1="139.67" y1="224.90" x2="139.67" y2="227.50" stroke="#111" stroke-width="1.1"/>
<line x1="141.50" y1="224.90" x2="141.50" y2="229.50" stroke="#111" stroke-width="1.3"/>
<text x="131.10" y="250.50" font-size="14.5" fill="#111">10<tspan font-size="10.2" dy="-4.9">2</tspan></text>
<line x1="153.53" y1="224.90" x2="153.53" y2="227.50" stroke="#111" stroke-width="1.1"/>
<line x1="160.56" y1="224.90" x2="160.56" y2="227.50" stroke="#111" stroke-width="1.1"/>
<line x1="165.55" y1="224.90" x2="165.55" y2="227.50" stroke="#111" stroke-width="1.1"/>
<line x1="169.42" y1="224.90" x2="169.42" y2="227.50" stroke="#111" stroke-width="1.1"/>
<line x1="172.59" y1="224.90" x2="172.59" y2="227.50" stroke="#111" stroke-width="1.1"/>
<line x1="175.26" y1="224.90" x2="175.26" y2="227.50" stroke="#111" stroke-width="1.1"/>
<line x1="177.58" y1="224.90" x2="177.58" y2="227.50" stroke="#111" stroke-width="1.1"/>
<line x1="179.62" y1="224.90" x2="179.62" y2="227.50" stroke="#111" stroke-width="1.1"/>
<line x1="181.45" y1="224.90" x2="181.45" y2="229.50" stroke="#111" stroke-width="1.3"/>
<text x="171.05" y="250.50" font-size="14.5" fill="#111">10<tspan font-size="10.2" dy="-4.9">3</tspan></text>
<line x1="193.48" y1="224.90" x2="193.48" y2="227.50" stroke="#111" stroke-width="1.1"/>
<line x1="200.51" y1="224.90" x2="200.51" y2="227.50" stroke="#111" stroke-width="1.1"/>
<line x1="205.50" y1="224.90" x2="205.50" y2="227.50" stroke="#111" stroke-width="1.1"/>
<line x1="209.37" y1="224.90" x2="209.37" y2="227.50" stroke="#111" stroke-width="1.1"/>
<line x1="212.54" y1="224.90" x2="212.54" y2="227.50" stroke="#111" stroke-width="1.1"/>
<line x1="215.21" y1="224.90" x2="215.21" y2="227.50" stroke="#111" stroke-width="1.1"/>
<line x1="217.53" y1="224.90" x2="217.53" y2="227.50" stroke="#111" stroke-width="1.1"/>
<line x1="219.57" y1="224.90" x2="219.57" y2="227.50" stroke="#111" stroke-width="1.1"/>
<line x1="221.40" y1="224.90" x2="221.40" y2="229.50" stroke="#111" stroke-width="1.3"/>
<text x="211.00" y="250.50" font-size="14.5" fill="#111">10<tspan font-size="10.2" dy="-4.9">4</tspan></text>
<line x1="233.43" y1="224.90" x2="233.43" y2="227.50" stroke="#111" stroke-width="1.1"/>
<line x1="240.46" y1="224.90" x2="240.46" y2="227.50" stroke="#111" stroke-width="1.1"/>
<line x1="245.45" y1="224.90" x2="245.45" y2="227.50" stroke="#111" stroke-width="1.1"/>
<line x1="249.32" y1="224.90" x2="249.32" y2="227.50" stroke="#111" stroke-width="1.1"/>
<line x1="252.49" y1="224.90" x2="252.49" y2="227.50" stroke="#111" stroke-width="1.1"/>
<line x1="255.16" y1="224.90" x2="255.16" y2="227.50" stroke="#111" stroke-width="1.1"/>
<line x1="257.48" y1="224.90" x2="257.48" y2="227.50" stroke="#111" stroke-width="1.1"/>
<line x1="259.52" y1="224.90" x2="259.52" y2="227.50" stroke="#111" stroke-width="1.1"/>
<line x1="261.35" y1="224.90" x2="261.35" y2="229.50" stroke="#111" stroke-width="1.3"/>
<text x="250.95" y="250.50" font-size="14.5" fill="#111">10<tspan font-size="10.2" dy="-4.9">5</tspan></text>
<line x1="273.38" y1="224.90" x2="273.38" y2="227.50" stroke="#111" stroke-width="1.1"/>
<text x="13.60" y="0.00" font-size="1" text-anchor="start" font-weight="normal" fill="#111"></text>
<text x="12.60" y="148.40" font-size="15.5" text-anchor="middle" font-weight="normal" fill="#111" transform="rotate(-90 12.60 148.40)">% Of max</text>
<text x="157.60" y="59.90" font-size="14.8" fill="#111">T<tspan font-size="11.4" dy="5.5">CC</tspan></text>
<line x1="284.10" y1="78.10" x2="297.80" y2="78.10" stroke="#8c8c8c" stroke-width="1.25"/>
<text x="306.20" y="80.70" font-size="15.4" text-anchor="start" font-weight="normal" fill="#111">Isotype</text>
<line x1="284.10" y1="96.17" x2="297.80" y2="96.17" stroke="#111" stroke-width="1.5" stroke-dasharray="9.2 3.3 1.3 10"/>
<text x="306.20" y="99.53" font-size="15.4" text-anchor="start" font-weight="normal" fill="#111">UT</text>
<line x1="284.10" y1="114.24" x2="297.80" y2="114.24" stroke="#111" stroke-width="1.5"/>
<text x="306.20" y="118.36" font-size="15.4" text-anchor="start" font-weight="normal" fill="#111">24&#8201;h</text>
<line x1="284.10" y1="132.31" x2="297.80" y2="132.31" stroke="#2a78bb" stroke-width="1.5"/>
<text x="306.20" y="137.19" font-size="15.4" text-anchor="start" font-weight="normal" fill="#111">48&#8201;h</text>
<line x1="284.10" y1="150.38" x2="297.80" y2="150.38" stroke="#dc2a2c" stroke-width="1.5"/>
<text x="306.20" y="156.02" font-size="15.4" text-anchor="start" font-weight="normal" fill="#111">72&#8201;h</text>
<path d="M62.00 443.20 L85.00 443.00 L98.10 440.00 L109.00 432.10 L118.40 421.20 L125.40 405.70 L130.00 382.30 L133.90 351.20 L137.00 323.10 L138.40 323.30 L140.70 321.70 L143.10 324.10 L144.70 337.60 L145.50 369.30 L150.30 385.90 L151.80 401.70 L154.20 417.60 L157.40 430.30 L161.40 439.80 L167.70 443.20 L174.00 443.20 L174.00 443.90 L62.00 443.90 Z" fill="#c3c3c3" stroke="#c3c3c3" stroke-width="0.6" stroke-linejoin="round"/>
<path d="M61.7 443.90 L61.9 357.00 L63.6 443.40" stroke="#2a78bb" stroke-width="1.2" fill="none"/>
<path d="M62.00 443.10 L62.00 443.20 L80.00 443.00 L101.20 438.40 L112.10 432.10 L120.70 421.20 L126.90 405.70 L131.60 382.30 L137.00 351.20 L141.70 323.10 L143.10 310.60 L145.50 305.10 L146.80 304.30 L148.30 310.60 L149.50 321.70 L151.00 342.30 L152.60 361.30 L153.40 370.00 L155.00 393.80 L156.60 409.60 L159.80 425.50 L164.50 436.60 L170.90 442.10 L178.80 443.20 L278.30 443.10" stroke="#111" stroke-width="1.5" fill="none" stroke-linejoin="round" stroke-dasharray="4.2 2.6"/>
<path d="M62.00 443.10 L62.00 443.20 L95.00 443.20 L110.60 438.40 L122.30 432.10 L130.00 421.20 L134.70 405.70 L139.40 382.30 L144.10 351.20 L145.50 342.30 L147.10 329.60 L149.50 320.10 L151.50 312.20 L153.10 313.80 L154.20 329.60 L155.80 350.30 L157.40 369.30 L159.80 393.80 L161.40 412.80 L164.50 427.10 L168.50 435.80 L174.00 441.30 L182.00 443.20 L278.30 443.10" stroke="#111" stroke-width="1.5" fill="none" stroke-linejoin="round"/>
<path d="M62.00 443.10 L62.00 443.20 L95.00 443.20 L107.50 440.00 L123.00 432.10 L130.80 421.20 L136.30 405.70 L141.00 382.30 L145.00 360.00 L146.30 340.70 L147.90 334.40 L149.50 328.10 L150.30 318.50 L151.50 312.20 L153.10 312.20 L155.00 321.70 L157.40 337.60 L159.80 353.40 L162.10 369.30 L165.30 393.80 L167.70 414.40 L170.90 430.30 L175.60 439.80 L185.10 443.20 L278.30 443.10" stroke="#2a78bb" stroke-width="1.5" fill="none" stroke-linejoin="round"/>
<path d="M62.00 443.10 L62.00 443.20 L95.00 443.20 L104.30 442.30 L123.00 440.00 L135.50 432.10 L140.20 421.20 L144.80 397.90 L149.50 350.30 L151.80 332.80 L154.20 321.70 L156.30 313.00 L157.90 318.50 L159.80 334.40 L161.40 353.40 L162.90 369.30 L165.30 389.00 L167.70 411.20 L170.10 425.50 L174.00 436.60 L178.80 441.30 L188.30 443.20 L201.00 443.20 L278.30 443.10" stroke="#dc2a2c" stroke-width="1.5" fill="none" stroke-linejoin="round"/>
<rect x="61.10" y="292.65" width="217.70" height="151.25" fill="none" stroke="#111" stroke-width="1.6"/>
<line x1="55.30" y1="443.90" x2="61.10" y2="443.90" stroke="#111" stroke-width="1.3"/>
<line x1="58.30" y1="436.73" x2="61.10" y2="436.73" stroke="#111" stroke-width="1.3"/>
<line x1="58.30" y1="429.56" x2="61.10" y2="429.56" stroke="#111" stroke-width="1.3"/>
<line x1="58.30" y1="422.39" x2="61.10" y2="422.39" stroke="#111" stroke-width="1.3"/>
<line x1="55.30" y1="415.22" x2="61.10" y2="415.22" stroke="#111" stroke-width="1.3"/>
<line x1="58.30" y1="408.05" x2="61.10" y2="408.05" stroke="#111" stroke-width="1.3"/>
<line x1="58.30" y1="400.88" x2="61.10" y2="400.88" stroke="#111" stroke-width="1.3"/>
<line x1="58.30" y1="393.71" x2="61.10" y2="393.71" stroke="#111" stroke-width="1.3"/>
<line x1="55.30" y1="386.54" x2="61.10" y2="386.54" stroke="#111" stroke-width="1.3"/>
<line x1="58.30" y1="379.37" x2="61.10" y2="379.37" stroke="#111" stroke-width="1.3"/>
<line x1="58.30" y1="372.20" x2="61.10" y2="372.20" stroke="#111" stroke-width="1.3"/>
<line x1="58.30" y1="365.03" x2="61.10" y2="365.03" stroke="#111" stroke-width="1.3"/>
<line x1="55.30" y1="357.86" x2="61.10" y2="357.86" stroke="#111" stroke-width="1.3"/>
<line x1="58.30" y1="350.69" x2="61.10" y2="350.69" stroke="#111" stroke-width="1.3"/>
<line x1="58.30" y1="343.52" x2="61.10" y2="343.52" stroke="#111" stroke-width="1.3"/>
<line x1="58.30" y1="336.35" x2="61.10" y2="336.35" stroke="#111" stroke-width="1.3"/>
<line x1="55.30" y1="329.18" x2="61.10" y2="329.18" stroke="#111" stroke-width="1.3"/>
<line x1="58.30" y1="322.01" x2="61.10" y2="322.01" stroke="#111" stroke-width="1.3"/>
<line x1="58.30" y1="314.84" x2="61.10" y2="314.84" stroke="#111" stroke-width="1.3"/>
<line x1="58.30" y1="307.67" x2="61.10" y2="307.67" stroke="#111" stroke-width="1.3"/>
<line x1="55.30" y1="300.50" x2="61.10" y2="300.50" stroke="#111" stroke-width="1.3"/>
<text x="49.40" y="448.10" font-size="14.8" text-anchor="end" font-weight="normal" fill="#111">0</text>
<text x="49.40" y="419.42" font-size="14.8" text-anchor="end" font-weight="normal" fill="#111">20</text>
<text x="49.40" y="390.74" font-size="14.8" text-anchor="end" font-weight="normal" fill="#111">40</text>
<text x="49.40" y="362.06" font-size="14.8" text-anchor="end" font-weight="normal" fill="#111">60</text>
<text x="49.40" y="333.38" font-size="14.8" text-anchor="end" font-weight="normal" fill="#111">80</text>
<text x="49.40" y="304.70" font-size="14.8" text-anchor="end" font-weight="normal" fill="#111">100</text>
<line x1="61.60" y1="443.90" x2="61.60" y2="448.50" stroke="#111" stroke-width="1.3"/>
<text x="51.20" y="468.30" font-size="14.5" fill="#111">10<tspan font-size="10.2" dy="-4.9">0</tspan></text>
<line x1="73.63" y1="443.90" x2="73.63" y2="446.50" stroke="#111" stroke-width="1.1"/>
<line x1="80.66" y1="443.90" x2="80.66" y2="446.50" stroke="#111" stroke-width="1.1"/>
<line x1="85.65" y1="443.90" x2="85.65" y2="446.50" stroke="#111" stroke-width="1.1"/>
<line x1="89.52" y1="443.90" x2="89.52" y2="446.50" stroke="#111" stroke-width="1.1"/>
<line x1="92.69" y1="443.90" x2="92.69" y2="446.50" stroke="#111" stroke-width="1.1"/>
<line x1="95.36" y1="443.90" x2="95.36" y2="446.50" stroke="#111" stroke-width="1.1"/>
<line x1="97.68" y1="443.90" x2="97.68" y2="446.50" stroke="#111" stroke-width="1.1"/>
<line x1="99.72" y1="443.90" x2="99.72" y2="446.50" stroke="#111" stroke-width="1.1"/>
<line x1="101.55" y1="443.90" x2="101.55" y2="448.50" stroke="#111" stroke-width="1.3"/>
<text x="91.15" y="468.30" font-size="14.5" fill="#111">10<tspan font-size="10.2" dy="-4.9">1</tspan></text>
<line x1="113.58" y1="443.90" x2="113.58" y2="446.50" stroke="#111" stroke-width="1.1"/>
<line x1="120.61" y1="443.90" x2="120.61" y2="446.50" stroke="#111" stroke-width="1.1"/>
<line x1="125.60" y1="443.90" x2="125.60" y2="446.50" stroke="#111" stroke-width="1.1"/>
<line x1="129.47" y1="443.90" x2="129.47" y2="446.50" stroke="#111" stroke-width="1.1"/>
<line x1="132.64" y1="443.90" x2="132.64" y2="446.50" stroke="#111" stroke-width="1.1"/>
<line x1="135.31" y1="443.90" x2="135.31" y2="446.50" stroke="#111" stroke-width="1.1"/>
<line x1="137.63" y1="443.90" x2="137.63" y2="446.50" stroke="#111" stroke-width="1.1"/>
<line x1="139.67" y1="443.90" x2="139.67" y2="446.50" stroke="#111" stroke-width="1.1"/>
<line x1="141.50" y1="443.90" x2="141.50" y2="448.50" stroke="#111" stroke-width="1.3"/>
<text x="131.10" y="468.30" font-size="14.5" fill="#111">10<tspan font-size="10.2" dy="-4.9">2</tspan></text>
<line x1="153.53" y1="443.90" x2="153.53" y2="446.50" stroke="#111" stroke-width="1.1"/>
<line x1="160.56" y1="443.90" x2="160.56" y2="446.50" stroke="#111" stroke-width="1.1"/>
<line x1="165.55" y1="443.90" x2="165.55" y2="446.50" stroke="#111" stroke-width="1.1"/>
<line x1="169.42" y1="443.90" x2="169.42" y2="446.50" stroke="#111" stroke-width="1.1"/>
<line x1="172.59" y1="443.90" x2="172.59" y2="446.50" stroke="#111" stroke-width="1.1"/>
<line x1="175.26" y1="443.90" x2="175.26" y2="446.50" stroke="#111" stroke-width="1.1"/>
<line x1="177.58" y1="443.90" x2="177.58" y2="446.50" stroke="#111" stroke-width="1.1"/>
<line x1="179.62" y1="443.90" x2="179.62" y2="446.50" stroke="#111" stroke-width="1.1"/>
<line x1="181.45" y1="443.90" x2="181.45" y2="448.50" stroke="#111" stroke-width="1.3"/>
<text x="171.05" y="468.30" font-size="14.5" fill="#111">10<tspan font-size="10.2" dy="-4.9">3</tspan></text>
<line x1="193.48" y1="443.90" x2="193.48" y2="446.50" stroke="#111" stroke-width="1.1"/>
<line x1="200.51" y1="443.90" x2="200.51" y2="446.50" stroke="#111" stroke-width="1.1"/>
<line x1="205.50" y1="443.90" x2="205.50" y2="446.50" stroke="#111" stroke-width="1.1"/>
<line x1="209.37" y1="443.90" x2="209.37" y2="446.50" stroke="#111" stroke-width="1.1"/>
<line x1="212.54" y1="443.90" x2="212.54" y2="446.50" stroke="#111" stroke-width="1.1"/>
<line x1="215.21" y1="443.90" x2="215.21" y2="446.50" stroke="#111" stroke-width="1.1"/>
<line x1="217.53" y1="443.90" x2="217.53" y2="446.50" stroke="#111" stroke-width="1.1"/>
<line x1="219.57" y1="443.90" x2="219.57" y2="446.50" stroke="#111" stroke-width="1.1"/>
<line x1="221.40" y1="443.90" x2="221.40" y2="448.50" stroke="#111" stroke-width="1.3"/>
<text x="211.00" y="468.30" font-size="14.5" fill="#111">10<tspan font-size="10.2" dy="-4.9">4</tspan></text>
<line x1="233.43" y1="443.90" x2="233.43" y2="446.50" stroke="#111" stroke-width="1.1"/>
<line x1="240.46" y1="443.90" x2="240.46" y2="446.50" stroke="#111" stroke-width="1.1"/>
<line x1="245.45" y1="443.90" x2="245.45" y2="446.50" stroke="#111" stroke-width="1.1"/>
<line x1="249.32" y1="443.90" x2="249.32" y2="446.50" stroke="#111" stroke-width="1.1"/>
<line x1="252.49" y1="443.90" x2="252.49" y2="446.50" stroke="#111" stroke-width="1.1"/>
<line x1="255.16" y1="443.90" x2="255.16" y2="446.50" stroke="#111" stroke-width="1.1"/>
<line x1="257.48" y1="443.90" x2="257.48" y2="446.50" stroke="#111" stroke-width="1.1"/>
<line x1="259.52" y1="443.90" x2="259.52" y2="446.50" stroke="#111" stroke-width="1.1"/>
<line x1="261.35" y1="443.90" x2="261.35" y2="448.50" stroke="#111" stroke-width="1.3"/>
<text x="250.95" y="468.30" font-size="14.5" fill="#111">10<tspan font-size="10.2" dy="-4.9">5</tspan></text>
<line x1="273.38" y1="443.90" x2="273.38" y2="446.50" stroke="#111" stroke-width="1.1"/>
<text x="13.60" y="0.00" font-size="1" text-anchor="start" font-weight="normal" fill="#111"></text>
<text x="12.60" y="367.40" font-size="15.5" text-anchor="middle" font-weight="normal" fill="#111" transform="rotate(-90 12.60 367.40)">% Of max</text>
<text x="135.00" y="277.60" font-size="14.8" fill="#111">T<tspan font-size="11.7" dy="5.5">CC+CTLA4</tspan></text>
<line x1="74.50" y1="489.00" x2="142.60" y2="489.00" stroke="#111" stroke-width="1.5"/>
<path d="M132.9 484.6 L143.2 489.0 L132.9 493.6" fill="none" stroke="#111" stroke-width="1.5"/>
<text x="156.00" y="492.60" font-size="14.4" text-anchor="start" font-weight="normal" fill="#111">Glut1</text>
<rect x="228.5" y="621.2" width="255.50" height="148.20" fill="none" stroke="#111" stroke-width="1.3"/>
<line x1="223.50" y1="769.40" x2="228.50" y2="769.40" stroke="#111" stroke-width="1.3"/>
<text x="218.80" y="774.80" font-size="15.4" text-anchor="end" font-weight="normal" fill="#111">0</text>
<line x1="223.50" y1="748.23" x2="228.50" y2="748.23" stroke="#111" stroke-width="1.3"/>
<text x="218.80" y="753.63" font-size="15.4" text-anchor="end" font-weight="normal" fill="#111">1</text>
<line x1="223.50" y1="727.06" x2="228.50" y2="727.06" stroke="#111" stroke-width="1.3"/>
<text x="218.80" y="732.46" font-size="15.4" text-anchor="end" font-weight="normal" fill="#111">2</text>
<line x1="223.50" y1="705.89" x2="228.50" y2="705.89" stroke="#111" stroke-width="1.3"/>
<text x="218.80" y="711.29" font-size="15.4" text-anchor="end" font-weight="normal" fill="#111">3</text>
<line x1="223.50" y1="684.71" x2="228.50" y2="684.71" stroke="#111" stroke-width="1.3"/>
<text x="218.80" y="690.11" font-size="15.4" text-anchor="end" font-weight="normal" fill="#111">4</text>
<line x1="223.50" y1="663.54" x2="228.50" y2="663.54" stroke="#111" stroke-width="1.3"/>
<text x="218.80" y="668.94" font-size="15.4" text-anchor="end" font-weight="normal" fill="#111">5</text>
<line x1="223.50" y1="642.37" x2="228.50" y2="642.37" stroke="#111" stroke-width="1.3"/>
<text x="218.80" y="647.77" font-size="15.4" text-anchor="end" font-weight="normal" fill="#111">6</text>
<line x1="223.50" y1="621.20" x2="228.50" y2="621.20" stroke="#111" stroke-width="1.3"/>
<text x="218.80" y="626.60" font-size="15.4" text-anchor="end" font-weight="normal" fill="#111">7</text>
<line x1="228.50" y1="769.40" x2="228.50" y2="773.90" stroke="#111" stroke-width="1.3"/>
<line x1="292.38" y1="769.40" x2="292.38" y2="773.90" stroke="#111" stroke-width="1.3"/>
<line x1="356.25" y1="769.40" x2="356.25" y2="773.90" stroke="#111" stroke-width="1.3"/>
<line x1="420.12" y1="769.40" x2="420.12" y2="773.90" stroke="#111" stroke-width="1.3"/>
<line x1="484.00" y1="769.40" x2="484.00" y2="773.90" stroke="#111" stroke-width="1.3"/>
<line x1="292.50" y1="729.30" x2="292.50" y2="744.40" stroke="#111" stroke-width="1.3"/>
<line x1="292.50" y1="752.80" x2="292.50" y2="759.20" stroke="#111" stroke-width="1.3"/>
<line x1="289.30" y1="729.30" x2="295.70" y2="729.30" stroke="#111" stroke-width="1.4"/>
<line x1="289.30" y1="759.20" x2="295.70" y2="759.20" stroke="#111" stroke-width="1.4"/>
<rect x="270.70" y="744.40" width="43.60" height="8.40" fill="#ffffff" stroke="#111" stroke-width="1.3"/>
<line x1="270.70" y1="749.60" x2="314.30" y2="749.60" stroke="#111" stroke-width="1.3"/>
<line x1="356.20" y1="644.60" x2="356.20" y2="659.50" stroke="#111" stroke-width="1.3"/>
<line x1="356.20" y1="668.00" x2="356.20" y2="674.10" stroke="#111" stroke-width="1.3"/>
<line x1="353.00" y1="644.60" x2="359.40" y2="644.60" stroke="#111" stroke-width="1.4"/>
<line x1="353.00" y1="674.10" x2="359.40" y2="674.10" stroke="#111" stroke-width="1.4"/>
<rect x="334.35" y="659.50" width="43.70" height="8.50" fill="#a8a8a8" stroke="#111" stroke-width="1.3"/>
<line x1="334.35" y1="663.80" x2="378.05" y2="663.80" stroke="#111" stroke-width="1.3"/>
<line x1="420.50" y1="725.10" x2="420.50" y2="739.80" stroke="#111" stroke-width="1.3"/>
<line x1="420.50" y1="748.50" x2="420.50" y2="754.90" stroke="#111" stroke-width="1.3"/>
<line x1="417.30" y1="725.10" x2="423.70" y2="725.10" stroke="#111" stroke-width="1.4"/>
<line x1="417.30" y1="754.90" x2="423.70" y2="754.90" stroke="#111" stroke-width="1.4"/>
<rect x="398.30" y="739.80" width="44.40" height="3.50" fill="#c62020"/>
<rect x="398.30" y="743.30" width="44.40" height="5.20" fill="#ff0d0d"/>
<rect x="398.30" y="739.80" width="44.40" height="8.70" fill="none" stroke="#2a0a0a" stroke-width="1.3"/>
<line x1="398.30" y1="743.30" x2="442.70" y2="743.30" stroke="#2a0a0a" stroke-width="1.3"/>
<path d="M355.80 627.80 L359.20 631.90 L355.80 636.00 L352.40 631.90 Z" fill="#111"/>
<path d="M420.60 712.60 L420.60 709.30 M420.60 712.60 L423.74 711.58 M420.60 712.60 L417.46 711.58 M420.60 712.60 L422.54 715.27 M420.60 712.60 L418.66 715.27 " stroke="#111" stroke-width="1.5" stroke-linecap="butt" fill="none"/>
<text x="356.20" y="608.80" font-size="15.5" text-anchor="middle" font-weight="normal" fill="#111">Lactate</text>
<text x="502.00" y="694.20" font-size="15.3" text-anchor="middle" font-weight="normal" fill="#111" transform="rotate(-90 502.00 694.20)">Scaled intensity</text>
<text x="292.50" y="793.20" font-size="14.8" text-anchor="middle" font-weight="normal" fill="#111">UT</text>
<text x="343.8" y="793.0" font-size="14.8" fill="#111">T<tspan font-size="11.5" dy="4.8">CC</tspan></text>
<text x="386.6" y="793.0" font-size="14.8" fill="#111">T<tspan font-size="11.5" dy="4.8">CC+CTLA4</tspan></text>
<rect x="571.4" y="621.2" width="259.40" height="145.80" fill="none" stroke="#111" stroke-width="1.3"/>
<line x1="566.40" y1="767.00" x2="571.40" y2="767.00" stroke="#111" stroke-width="1.3"/>
<text x="562.80" y="772.40" font-size="15.4" text-anchor="end" font-weight="normal" fill="#111">0.6</text>
<line x1="566.40" y1="718.40" x2="571.40" y2="718.40" stroke="#111" stroke-width="1.3"/>
<text x="562.80" y="723.80" font-size="15.4" text-anchor="end" font-weight="normal" fill="#111">0.8</text>
<line x1="566.40" y1="669.80" x2="571.40" y2="669.80" stroke="#111" stroke-width="1.3"/>
<text x="562.80" y="675.20" font-size="15.4" text-anchor="end" font-weight="normal" fill="#111">1</text>
<line x1="566.40" y1="621.20" x2="571.40" y2="621.20" stroke="#111" stroke-width="1.3"/>
<text x="562.80" y="626.60" font-size="15.4" text-anchor="end" font-weight="normal" fill="#111">1.2</text>
<line x1="571.40" y1="767.00" x2="571.40" y2="771.50" stroke="#111" stroke-width="1.3"/>
<line x1="636.25" y1="767.00" x2="636.25" y2="771.50" stroke="#111" stroke-width="1.3"/>
<line x1="701.10" y1="767.00" x2="701.10" y2="771.50" stroke="#111" stroke-width="1.3"/>
<line x1="765.95" y1="767.00" x2="765.95" y2="771.50" stroke="#111" stroke-width="1.3"/>
<line x1="830.80" y1="767.00" x2="830.80" y2="771.50" stroke="#111" stroke-width="1.3"/>
<line x1="636.50" y1="657.50" x2="636.50" y2="665.50" stroke="#111" stroke-width="1.3"/>
<line x1="636.50" y1="674.00" x2="636.50" y2="682.00" stroke="#111" stroke-width="1.3"/>
<line x1="633.30" y1="657.50" x2="639.70" y2="657.50" stroke="#111" stroke-width="1.4"/>
<line x1="633.30" y1="682.00" x2="639.70" y2="682.00" stroke="#111" stroke-width="1.4"/>
<rect x="614.50" y="665.50" width="44.00" height="8.50" fill="#ffffff" stroke="#111" stroke-width="1.3"/>
<line x1="614.50" y1="669.30" x2="658.50" y2="669.30" stroke="#111" stroke-width="1.3"/>
<line x1="701.50" y1="670.20" x2="701.50" y2="677.80" stroke="#111" stroke-width="1.3"/>
<line x1="701.50" y1="686.30" x2="701.50" y2="693.00" stroke="#111" stroke-width="1.3"/>
<line x1="698.30" y1="670.20" x2="704.70" y2="670.20" stroke="#111" stroke-width="1.4"/>
<line x1="698.30" y1="693.00" x2="704.70" y2="693.00" stroke="#111" stroke-width="1.4"/>
<rect x="679.65" y="677.80" width="43.70" height="8.50" fill="#a8a8a8" stroke="#111" stroke-width="1.3"/>
<line x1="679.65" y1="683.10" x2="723.35" y2="683.10" stroke="#111" stroke-width="1.3"/>
<line x1="766.40" y1="657.70" x2="766.40" y2="665.10" stroke="#111" stroke-width="1.3"/>
<line x1="766.40" y1="674.10" x2="766.40" y2="682.00" stroke="#111" stroke-width="1.3"/>
<line x1="763.20" y1="657.70" x2="769.60" y2="657.70" stroke="#111" stroke-width="1.4"/>
<line x1="763.20" y1="682.00" x2="769.60" y2="682.00" stroke="#111" stroke-width="1.4"/>
<rect x="744.40" y="665.10" width="44.00" height="1.40" fill="#c62020"/>
<rect x="744.40" y="666.50" width="44.00" height="7.60" fill="#ff0d0d"/>
<rect x="744.40" y="665.10" width="44.00" height="9.00" fill="none" stroke="#2a0a0a" stroke-width="1.3"/>
<line x1="744.40" y1="666.50" x2="788.40" y2="666.50" stroke="#2a0a0a" stroke-width="1.3"/>
<text x="701.20" y="608.90" font-size="15.4" text-anchor="middle" font-weight="normal" fill="#111">3-Hydroxybutyrate (BHBA)</text>
<text x="848.00" y="693.30" font-size="15.3" text-anchor="middle" font-weight="normal" fill="#111" transform="rotate(-90 848.00 693.30)">Scaled intensity</text>
<text x="636.90" y="791.40" font-size="14.8" text-anchor="middle" font-weight="normal" fill="#111">UT</text>
<text x="688.2" y="791.2" font-size="14.8" fill="#111">T<tspan font-size="11.5" dy="4.8">CC</tspan></text>
<text x="732.8" y="791.2" font-size="14.8" fill="#111">T<tspan font-size="11.5" dy="4.8">CC+CTLA4</tspan></text>
</svg></body></html>
